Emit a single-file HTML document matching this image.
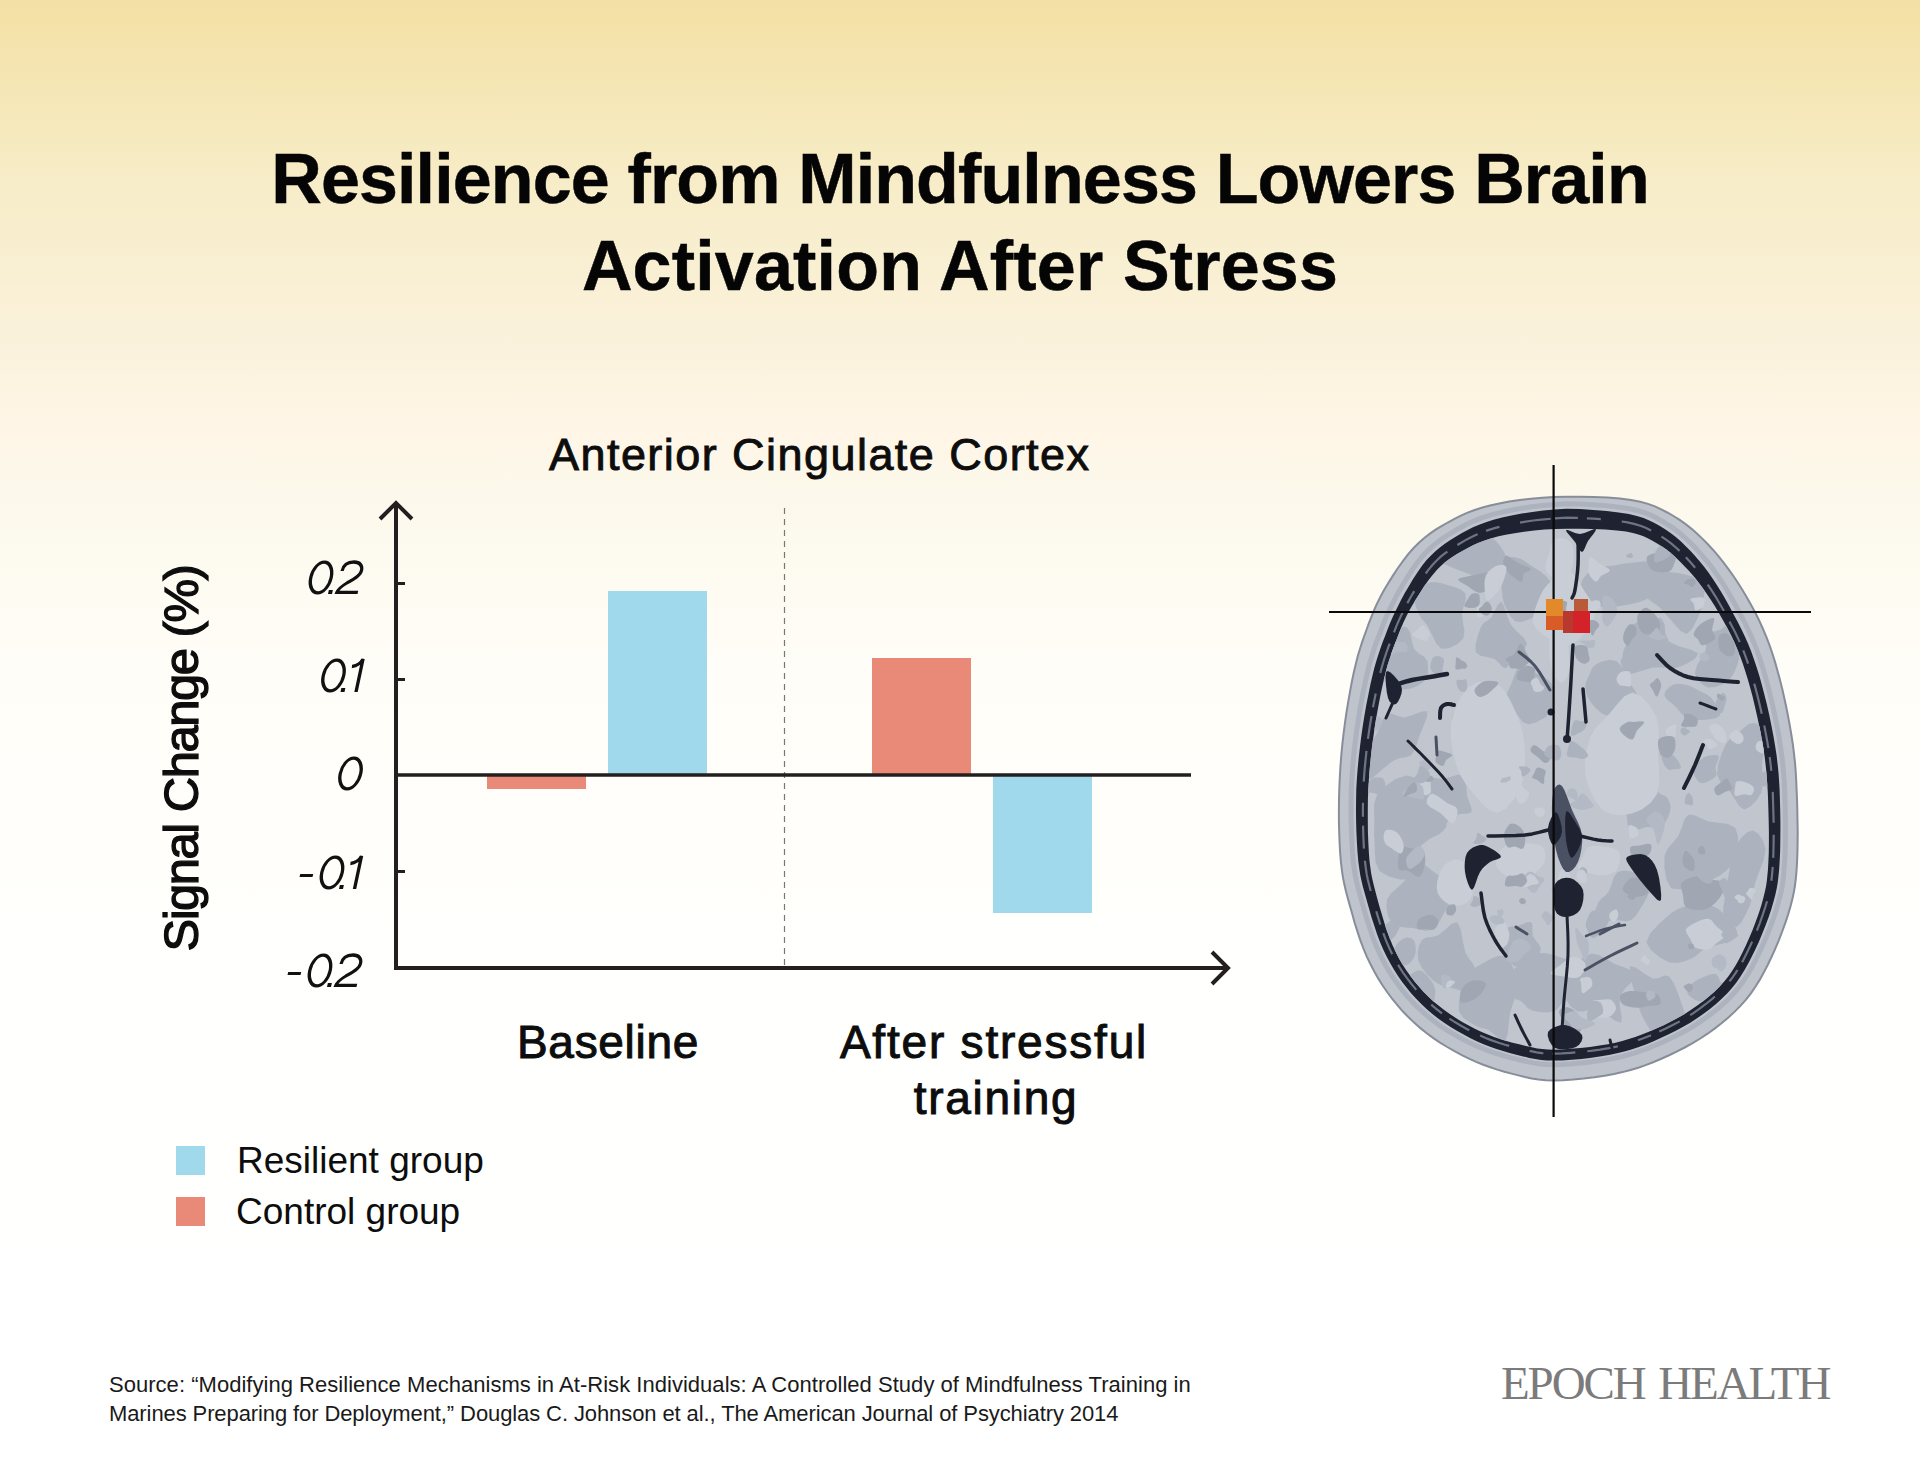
<!DOCTYPE html>
<html><head><meta charset="utf-8">
<style>
html,body{margin:0;padding:0;}
body{width:1920px;height:1457px;position:relative;overflow:hidden;background:#fff;font-family:"Liberation Sans",sans-serif;color:#0d0d0d;}
#bg{position:absolute;left:0;top:0;width:1920px;height:1328px;background:linear-gradient(180deg,#f3e0a4 0px,#f7edc9 190px,#faf1da 330px,#fff5e6 426px,#fcf8ea 480px,#fdfaf0 560px,#fffdf7 660px,#fffffd 950px,#ffffff 1328px);}
.t{position:absolute;white-space:nowrap;line-height:1;}
#title{left:0;width:1920px;text-align:center;font-weight:bold;font-size:70px;letter-spacing:-0.5px;color:#050505;-webkit-text-stroke:0.5px #050505;}
#ctitle{left:549px;top:432px;font-size:45px;letter-spacing:1.45px;-webkit-text-stroke:0.9px #0d0d0d;}
.yl{position:absolute;font-style:italic;font-size:48px;letter-spacing:-3px;text-align:right;width:120px;line-height:1;}
#ylab{font-size:49px;letter-spacing:-1.5px;-webkit-text-stroke:1.3px #0d0d0d;}
.xl{font-size:46px;text-align:center;width:400px;-webkit-text-stroke:1.0px #0d0d0d;}
.leg{font-size:37px;}
.sq{position:absolute;width:29px;height:29px;}
#src{left:109px;font-size:22px;letter-spacing:0.03px;line-height:29px;color:#1a1a1a;}
#logo{font-family:"Liberation Serif",serif;font-size:47px;color:#7b7b7b;letter-spacing:-2.1px;word-spacing:4px;}
</style></head>
<body>
<div id="bg"></div>
<div class="t" id="title" style="top:144px;letter-spacing:-0.86px">Resilience from Mindfulness Lowers Brain</div>
<div class="t" id="title2" style="position:absolute;left:0;width:1920px;text-align:center;font-weight:bold;font-size:70px;letter-spacing:0.18px;top:231px;color:#050505;-webkit-text-stroke:0.5px #050505;white-space:nowrap;line-height:1">Activation After Stress</div>
<div class="t" id="ctitle">Anterior Cingulate Cortex</div>

<svg style="position:absolute;left:0;top:0" width="1920" height="1457">
  <!-- dashed separator -->
  <line x1="784.5" y1="508" x2="784.5" y2="968" stroke="#777" stroke-width="1.2" stroke-dasharray="6,5"/>
  <!-- bars -->
  <rect x="487" y="775" width="99" height="14" fill="#e98a78"/>
  <rect x="608" y="591" width="99" height="184" fill="#a0d9eb"/>
  <rect x="872" y="658" width="99" height="117" fill="#e98a78"/>
  <rect x="993" y="775" width="99" height="138" fill="#a0d9eb"/>
  <!-- axes -->
  <g stroke="#231f20" fill="none">
    <line x1="396" y1="503" x2="396" y2="970" stroke-width="4"/>
    <polyline points="380,519 396,503 412,519" stroke-width="4"/>
    <line x1="394" y1="968" x2="1227" y2="968" stroke-width="4"/>
    <polyline points="1212,952 1228,968 1212,984" stroke-width="4"/>
    <line x1="396" y1="775" x2="1191" y2="775" stroke-width="3.5"/>
    <line x1="396" y1="583.5" x2="405" y2="583.5" stroke-width="3"/>
    <line x1="396" y1="679.5" x2="405" y2="679.5" stroke-width="3"/>
    <line x1="396" y1="871.5" x2="405" y2="871.5" stroke-width="3"/>
  </g>
</svg>


<svg id="ylabels" style="position:absolute;left:0;top:0" width="1920" height="1457">
<g transform="translate(307,594) skewX(-12)"><ellipse cx="10.5" cy="-16.5" rx="10.2" ry="15.3" fill="none" stroke="#111" stroke-width="3.3"/><rect x="21" y="-4" width="4" height="4" fill="#111"/><path transform="translate(28,0)" d="M2.2,-23 C2.2,-29.5 6.5,-32 12,-32 C18,-32 21.5,-28.5 21.5,-23.5 C21.5,-18 15,-14.5 9.5,-11 C4.5,-7.5 2,-4.5 1.5,-1.7 L22.5,-1.7" fill="none" stroke="#111" stroke-width="3.3"/></g>
<g transform="translate(319.5,692) skewX(-12)"><ellipse cx="10.5" cy="-16.5" rx="10.2" ry="15.3" fill="none" stroke="#111" stroke-width="3.3"/><rect x="21" y="-4" width="4" height="4" fill="#111"/><path transform="translate(23,0)" d="M4,-25.5 C8,-26 12,-28 13.5,-33 L13.5,0" fill="none" stroke="#111" stroke-width="3.4"/></g>
<g transform="translate(336.5,790) skewX(-12)"><ellipse cx="10.5" cy="-16.5" rx="10.2" ry="15.3" fill="none" stroke="#111" stroke-width="3.3"/></g>
<g transform="translate(297,889) skewX(-12)"><line x1="0" y1="-13.5" x2="13" y2="-13.5" stroke="#111" stroke-width="3.2"/><ellipse cx="31.5" cy="-16.5" rx="10.2" ry="15.3" fill="none" stroke="#111" stroke-width="3.3"/><rect x="42" y="-4" width="4" height="4" fill="#111"/><path transform="translate(44,0)" d="M4,-25.5 C8,-26 12,-28 13.5,-33 L13.5,0" fill="none" stroke="#111" stroke-width="3.4"/></g>
<g transform="translate(285,987) skewX(-12)"><line x1="0" y1="-13.5" x2="13" y2="-13.5" stroke="#111" stroke-width="3.2"/><ellipse cx="31.5" cy="-16.5" rx="10.2" ry="15.3" fill="none" stroke="#111" stroke-width="3.3"/><rect x="42" y="-4" width="4" height="4" fill="#111"/><path transform="translate(49,0)" d="M2.2,-23 C2.2,-29.5 6.5,-32 12,-32 C18,-32 21.5,-28.5 21.5,-23.5 C21.5,-18 15,-14.5 9.5,-11 C4.5,-7.5 2,-4.5 1.5,-1.7 L22.5,-1.7" fill="none" stroke="#111" stroke-width="3.3"/></g>
</svg>
<div class="t" id="ylab" style="left:0;top:0;transform-origin:0 0;transform:translate(156.5px,951.5px) rotate(-90deg)">Signal Change (%)</div>

<div class="t xl" style="left:408px;top:1019px;letter-spacing:0.7px">Baseline</div>
<div class="t xl" style="left:794px;top:1019px;letter-spacing:1.8px">After stressful</div>
<div class="t xl" style="left:796px;top:1075px;letter-spacing:1.7px">training</div>

<div class="sq" style="left:176px;top:1146px;background:#a0d9eb"></div>
<div class="sq" style="left:176px;top:1197px;background:#e98a78"></div>
<div class="t leg" style="left:237px;top:1142px">Resilient group</div>
<div class="t leg" style="left:236px;top:1193px">Control group</div>

<div class="t" id="src" style="top:1370px">Source: “Modifying Resilience Mechanisms in At-Risk Individuals: A Controlled Study of Mindfulness Training in<br><span style="letter-spacing:-0.1px">Marines Preparing for Deployment,” Douglas C. Johnson et al., The American Journal of Psychiatry 2014</span></div>
<div class="t" id="logo" style="left:1501px;top:1360px">EPOCH HEALTH</div>

<!-- BRAIN -->
<svg id="brain" style="position:absolute;left:0;top:0" width="1920" height="1457">
<path d="M1554.0,497.0 L1566.5,496.7 L1580.0,496.7 L1593.8,497.0 L1607.4,497.6 L1620.0,498.6 L1631.0,500.0 L1640.2,501.8 L1648.0,503.9 L1654.9,506.4 L1661.2,509.3 L1667.3,512.5 L1673.5,516.0 L1679.7,519.9 L1685.6,524.1 L1691.3,528.6 L1696.9,533.5 L1702.3,538.6 L1707.6,544.0 L1712.9,549.7 L1718.0,555.6 L1723.0,561.8 L1727.9,568.3 L1732.7,575.0 L1737.4,582.0 L1742.0,589.3 L1746.6,596.9 L1751.0,604.7 L1755.3,612.7 L1759.3,620.8 L1763.0,629.0 L1766.4,637.1 L1769.5,645.2 L1772.3,653.4 L1775.0,661.9 L1777.5,670.7 L1780.0,680.0 L1782.5,690.0 L1784.9,700.7 L1787.2,711.8 L1789.3,722.9 L1791.2,733.7 L1792.8,744.0 L1794.0,753.6 L1795.0,762.7 L1795.7,771.5 L1796.2,780.3 L1796.6,789.4 L1797.0,799.0 L1797.3,809.4 L1797.5,820.4 L1797.7,831.8 L1797.6,842.9 L1797.4,853.4 L1797.0,863.0 L1796.5,871.3 L1795.8,878.6 L1795.0,885.3 L1793.9,891.9 L1792.5,898.6 L1790.6,906.0 L1788.2,914.1 L1785.4,922.7 L1782.2,931.5 L1778.8,940.3 L1775.2,948.9 L1771.5,957.0 L1767.8,964.7 L1764.0,972.1 L1760.0,979.4 L1755.7,986.3 L1751.1,993.1 L1746.0,999.6 L1740.4,1005.9 L1734.5,1011.9 L1728.1,1017.7 L1721.5,1023.3 L1714.6,1028.6 L1707.6,1033.7 L1700.3,1038.5 L1692.6,1043.2 L1684.7,1047.5 L1676.6,1051.7 L1668.6,1055.5 L1660.7,1059.0 L1653.1,1062.2 L1645.6,1065.1 L1638.2,1067.7 L1630.5,1070.0 L1622.6,1072.1 L1614.0,1074.0 L1604.6,1075.7 L1594.3,1077.3 L1583.7,1078.6 L1573.2,1079.6 L1563.1,1080.3 L1554.0,1080.5 L1545.9,1080.2 L1538.5,1079.5 L1531.7,1078.4 L1525.0,1077.0 L1518.4,1075.4 L1511.5,1073.6 L1504.4,1071.7 L1497.3,1069.6 L1490.3,1067.3 L1483.2,1064.8 L1476.1,1061.9 L1469.0,1058.7 L1461.8,1055.1 L1454.5,1051.2 L1447.2,1047.0 L1440.0,1042.6 L1433.0,1037.9 L1426.4,1033.0 L1420.1,1027.9 L1414.1,1022.6 L1408.3,1017.0 L1402.7,1011.3 L1397.4,1005.2 L1392.3,999.0 L1387.5,992.5 L1382.8,985.8 L1378.5,978.9 L1374.4,971.7 L1370.5,964.3 L1366.8,956.6 L1363.4,948.5 L1360.2,939.9 L1357.3,931.1 L1354.5,922.2 L1352.1,913.6 L1349.8,905.5 L1347.8,898.2 L1346.0,891.5 L1344.5,885.1 L1343.1,878.4 L1342.0,871.2 L1341.0,863.0 L1340.2,853.6 L1339.6,843.3 L1339.2,832.3 L1338.9,821.1 L1338.9,809.9 L1339.0,799.0 L1339.3,788.3 L1339.8,777.6 L1340.4,767.0 L1341.2,756.3 L1342.2,745.6 L1343.4,735.0 L1344.8,724.1 L1346.4,713.0 L1348.2,701.9 L1350.1,691.1 L1352.0,680.9 L1354.0,671.5 L1356.0,663.2 L1357.9,655.6 L1360.0,648.7 L1362.1,642.1 L1364.4,635.6 L1366.8,629.0 L1369.2,622.4 L1371.7,616.1 L1374.2,609.8 L1377.0,603.6 L1380.2,597.2 L1383.8,590.6 L1388.0,583.5 L1392.6,576.1 L1397.6,568.5 L1402.9,561.1 L1408.2,554.2 L1413.6,548.0 L1418.9,542.7 L1424.3,537.9 L1429.9,533.6 L1435.6,529.7 L1441.5,526.1 L1447.7,522.5 L1454.0,519.1 L1460.4,515.9 L1467.0,512.9 L1474.0,510.2 L1481.6,507.7 L1490.0,505.5 L1499.3,503.5 L1509.2,501.6 L1519.8,500.0 L1530.9,498.7 L1542.3,497.7Z" fill="#bec3cc" stroke="#878e9a" stroke-width="2"/>
<path d="M1554.3,504.4 L1566.6,503.7 L1579.9,504.0 L1593.6,504.8 L1606.9,505.8 L1619.1,507.2 L1629.6,508.8 L1638.1,510.7 L1645.2,512.9 L1651.3,515.4 L1656.9,518.2 L1662.5,521.3 L1668.2,524.9 L1673.9,528.6 L1679.2,532.6 L1684.3,537.0 L1689.3,541.7 L1694.3,546.8 L1699.2,552.1 L1704.0,557.6 L1708.7,563.4 L1713.3,569.4 L1717.8,575.8 L1722.1,582.3 L1726.4,589.2 L1730.6,596.3 L1734.7,603.8 L1738.7,611.4 L1742.9,619.1 L1746.8,626.8 L1750.4,634.5 L1753.7,642.2 L1756.7,649.9 L1759.5,657.7 L1762.1,665.8 L1764.7,674.3 L1767.2,683.3 L1769.7,693.0 L1772.2,703.5 L1774.6,714.3 L1776.8,725.1 L1778.8,735.7 L1780.4,745.8 L1781.7,755.0 L1782.8,763.8 L1783.5,772.4 L1784.2,781.0 L1784.6,789.9 L1784.9,799.4 L1785.2,809.7 L1785.4,820.6 L1785.4,831.8 L1785.3,842.8 L1785.1,853.1 L1784.6,862.3 L1784.0,870.3 L1783.4,877.3 L1782.6,883.5 L1781.6,889.5 L1780.2,895.7 L1778.4,902.7 L1776.1,910.4 L1773.4,918.6 L1770.3,927.0 L1767.0,935.5 L1763.4,943.7 L1759.8,951.5 L1756.2,958.9 L1752.5,966.0 L1748.7,972.8 L1744.7,979.2 L1740.4,985.3 L1735.7,991.1 L1730.6,996.7 L1725.1,1002.2 L1719.1,1007.5 L1712.8,1012.6 L1706.3,1017.5 L1699.6,1022.2 L1692.7,1026.6 L1685.5,1030.8 L1677.9,1034.8 L1670.2,1038.6 L1662.5,1042.2 L1654.9,1045.5 L1647.5,1048.4 L1640.4,1051.0 L1633.5,1053.4 L1626.4,1055.4 L1619.0,1057.3 L1611.0,1058.9 L1602.0,1060.4 L1592.2,1061.8 L1582.0,1062.9 L1571.9,1063.8 L1562.4,1064.4 L1554.1,1064.7 L1546.9,1064.5 L1540.5,1064.0 L1534.5,1063.1 L1528.4,1061.9 L1522.1,1060.5 L1515.4,1058.8 L1508.5,1057.1 L1501.8,1055.2 L1495.1,1053.2 L1488.5,1050.9 L1481.9,1048.3 L1475.3,1045.4 L1468.5,1042.2 L1461.5,1038.6 L1454.5,1034.7 L1447.7,1030.6 L1441.1,1026.4 L1435.0,1021.9 L1429.1,1017.3 L1423.4,1012.4 L1417.9,1007.4 L1412.7,1002.1 L1407.6,996.5 L1402.8,990.8 L1398.2,984.8 L1393.8,978.6 L1389.6,972.2 L1385.7,965.4 L1382.0,958.5 L1378.6,951.3 L1375.3,943.8 L1372.3,935.6 L1369.4,927.2 L1366.7,918.6 L1364.2,910.2 L1362.0,902.1 L1359.9,894.9 L1358.2,888.4 L1356.7,882.4 L1355.4,876.2 L1354.3,869.5 L1353.3,861.8 L1352.5,852.7 L1351.9,842.7 L1351.4,832.0 L1351.1,821.0 L1351.0,809.9 L1351.1,799.2 L1351.3,788.8 L1351.9,778.3 L1352.6,767.8 L1353.5,757.3 L1354.6,746.9 L1355.9,736.5 L1357.4,725.9 L1359.1,715.0 L1360.9,704.1 L1362.9,693.4 L1365.0,683.5 L1367.0,674.4 L1368.9,666.4 L1370.9,659.2 L1372.9,652.7 L1375.0,646.4 L1377.2,640.2 L1379.7,633.7 L1382.1,627.3 L1384.5,621.1 L1387.0,615.3 L1389.7,609.5 L1392.5,603.6 L1395.7,597.4 L1399.5,590.5 L1403.7,583.2 L1408.3,575.8 L1413.0,568.6 L1417.8,562.0 L1422.5,556.2 L1427.1,551.3 L1431.8,546.9 L1436.6,542.9 L1441.7,539.1 L1447.1,535.5 L1453.0,531.9 L1458.9,528.5 L1464.8,525.2 L1470.9,522.3 L1477.3,519.6 L1484.3,517.0 L1492.2,514.6 L1501.1,512.4 L1510.7,510.3 L1521.0,508.4 L1531.7,506.8 L1542.9,505.4Z" fill="none" stroke="#adb3be" stroke-width="5"/>
<path d="M1554.5,509.5 L1566.6,508.7 L1579.9,509.1 L1593.4,509.9 L1606.6,511.0 L1618.6,512.4 L1628.8,514.0 L1636.9,515.9 L1643.6,518.0 L1649.3,520.4 L1654.5,523.0 L1659.9,526.1 L1665.5,529.6 L1670.9,533.2 L1675.8,537.1 L1680.7,541.3 L1685.5,545.9 L1690.3,550.8 L1695.1,556.0 L1699.8,561.4 L1704.3,567.0 L1708.8,573.0 L1713.1,579.2 L1717.3,585.7 L1721.5,592.4 L1725.6,599.4 L1729.6,606.8 L1733.5,614.3 L1737.6,621.8 L1741.4,629.3 L1745.0,636.8 L1748.3,644.3 L1751.3,651.8 L1754.0,659.5 L1756.7,667.4 L1759.3,675.8 L1761.8,684.7 L1764.3,694.3 L1766.9,704.6 L1769.3,715.3 L1771.5,726.1 L1773.5,736.6 L1775.2,746.5 L1776.6,755.6 L1777.6,764.3 L1778.5,772.7 L1779.1,781.2 L1779.6,790.1 L1779.9,799.6 L1780.2,809.8 L1780.4,820.7 L1780.4,831.8 L1780.3,842.7 L1780.1,852.9 L1779.6,862.1 L1779.1,870.0 L1778.4,876.8 L1777.7,882.8 L1776.7,888.6 L1775.4,894.6 L1773.6,901.3 L1771.4,908.9 L1768.7,917.0 L1765.6,925.3 L1762.3,933.6 L1758.9,941.7 L1755.3,949.4 L1751.7,956.7 L1748.1,963.7 L1744.4,970.3 L1740.5,976.5 L1736.4,982.4 L1732.0,988.0 L1727.1,993.4 L1721.7,998.7 L1716.0,1003.9 L1709.9,1008.9 L1703.5,1013.7 L1697.0,1018.3 L1690.3,1022.7 L1683.2,1026.8 L1675.8,1030.8 L1668.2,1034.6 L1660.6,1038.1 L1653.1,1041.4 L1645.9,1044.4 L1638.9,1047.0 L1632.1,1049.3 L1625.2,1051.3 L1618.0,1053.1 L1610.1,1054.8 L1601.3,1056.3 L1591.6,1057.7 L1581.5,1058.9 L1571.6,1059.8 L1562.2,1060.4 L1554.1,1060.6 L1547.2,1060.5 L1541.1,1059.9 L1535.2,1059.0 L1529.4,1057.9 L1523.1,1056.4 L1516.4,1054.7 L1509.7,1053.0 L1503.1,1051.1 L1496.5,1049.1 L1490.1,1046.8 L1483.6,1044.3 L1477.2,1041.4 L1470.5,1038.2 L1463.7,1034.6 L1456.9,1030.8 L1450.2,1026.8 L1443.8,1022.6 L1437.8,1018.2 L1432.1,1013.7 L1426.6,1008.9 L1421.3,1004.0 L1416.2,998.8 L1411.3,993.4 L1406.7,987.8 L1402.2,981.9 L1398.0,975.9 L1393.9,969.6 L1390.1,963.0 L1386.5,956.2 L1383.1,949.3 L1380.0,941.9 L1377.0,934.0 L1374.2,925.6 L1371.5,917.2 L1369.1,908.8 L1366.8,900.8 L1364.8,893.6 L1363.0,887.2 L1361.6,881.3 L1360.3,875.3 L1359.3,868.8 L1358.3,861.3 L1357.5,852.3 L1356.9,842.4 L1356.4,831.8 L1356.1,820.9 L1356.0,810.0 L1356.1,799.3 L1356.3,788.9 L1356.9,778.5 L1357.7,768.2 L1358.7,757.8 L1359.9,747.4 L1361.2,737.1 L1362.7,726.6 L1364.4,715.8 L1366.3,705.0 L1368.4,694.4 L1370.4,684.5 L1372.5,675.6 L1374.4,667.7 L1376.4,660.8 L1378.4,654.4 L1380.5,648.3 L1382.7,642.1 L1385.2,635.7 L1387.6,629.3 L1390.0,623.3 L1392.5,617.6 L1395.1,612.1 L1397.8,606.4 L1400.9,600.3 L1404.5,593.6 L1408.7,586.4 L1413.1,579.1 L1417.7,572.0 L1422.2,565.6 L1426.6,560.1 L1431.0,555.5 L1435.4,551.3 L1439.9,547.4 L1444.8,543.8 L1450.0,540.3 L1455.7,536.8 L1461.5,533.3 L1467.2,530.2 L1473.0,527.3 L1479.1,524.7 L1485.9,522.2 L1493.5,519.8 L1502.1,517.6 L1511.6,515.5 L1521.7,513.6 L1532.3,511.9 L1543.3,510.5Z" fill="#1e2231"/>
<path d="M1554.9,518.4 L1566.8,517.7 L1579.8,518.0 L1593.1,518.6 L1606.0,519.6 L1617.8,520.9 L1627.5,522.4 L1635.0,524.1 L1641.1,526.0 L1646.2,528.0 L1650.9,530.4 L1656.0,533.2 L1661.3,536.5 L1666.4,539.9 L1671.1,543.4 L1675.7,547.3 L1680.3,551.6 L1684.9,556.3 L1689.6,561.3 L1694.1,566.5 L1698.5,571.9 L1702.9,577.6 L1707.1,583.6 L1711.3,589.8 L1715.4,596.3 L1719.5,603.2 L1723.5,610.3 L1727.3,617.7 L1731.3,625.0 L1735.1,632.3 L1738.6,639.6 L1741.8,646.9 L1744.7,654.2 L1747.4,661.7 L1750.0,669.4 L1752.5,677.7 L1755.0,686.4 L1757.5,695.9 L1760.0,706.1 L1762.4,716.7 L1764.6,727.4 L1766.6,737.7 L1768.3,747.5 L1769.6,756.5 L1770.7,764.9 L1771.5,773.2 L1772.1,781.6 L1772.7,790.4 L1773.0,799.8 L1773.3,810.0 L1773.6,820.8 L1773.7,831.8 L1773.6,842.6 L1773.4,852.7 L1773.0,861.7 L1772.5,869.5 L1771.9,876.1 L1771.2,881.9 L1770.3,887.4 L1769.1,893.1 L1767.5,899.7 L1765.3,907.0 L1762.7,914.9 L1759.8,923.1 L1756.6,931.3 L1753.2,939.3 L1749.8,946.8 L1746.3,954.0 L1742.8,960.9 L1739.2,967.3 L1735.5,973.2 L1731.5,978.8 L1727.3,984.1 L1722.6,989.2 L1717.4,994.2 L1711.9,999.2 L1705.9,1004.0 L1699.7,1008.7 L1693.4,1013.1 L1686.9,1017.3 L1680.0,1021.3 L1672.7,1025.1 L1665.3,1028.8 L1657.9,1032.2 L1650.5,1035.4 L1643.4,1038.2 L1636.6,1040.7 L1630.1,1042.9 L1623.4,1044.8 L1616.4,1046.6 L1608.8,1048.1 L1600.2,1049.6 L1590.7,1050.9 L1580.8,1052.0 L1571.0,1052.8 L1561.9,1053.4 L1554.1,1053.7 L1547.6,1053.6 L1541.9,1053.1 L1536.5,1052.3 L1530.9,1051.2 L1524.8,1049.8 L1518.2,1048.2 L1511.5,1046.5 L1505.0,1044.7 L1498.7,1042.8 L1492.4,1040.6 L1486.2,1038.2 L1480.0,1035.5 L1473.5,1032.4 L1466.8,1029.0 L1460.2,1025.3 L1453.7,1021.4 L1447.5,1017.4 L1441.7,1013.2 L1436.2,1008.9 L1430.8,1004.3 L1425.7,999.6 L1420.8,994.6 L1416.0,989.4 L1411.5,984.0 L1407.2,978.4 L1403.0,972.6 L1399.1,966.5 L1395.4,960.1 L1391.9,953.5 L1388.7,946.8 L1385.7,939.7 L1382.8,931.9 L1380.1,923.7 L1377.5,915.4 L1375.1,907.1 L1372.9,899.1 L1370.9,891.9 L1369.3,885.6 L1367.9,879.9 L1366.7,874.2 L1365.8,868.0 L1364.9,860.6 L1364.1,851.9 L1363.6,842.1 L1363.2,831.6 L1362.9,820.8 L1362.9,810.0 L1363.0,799.5 L1363.3,789.2 L1363.9,778.9 L1364.7,768.6 L1365.7,758.4 L1366.8,748.1 L1368.1,737.9 L1369.6,727.5 L1371.4,716.8 L1373.2,706.1 L1375.3,695.7 L1377.3,685.9 L1379.3,677.1 L1381.2,669.4 L1383.1,662.7 L1385.1,656.4 L1387.1,650.5 L1389.3,644.5 L1391.7,638.2 L1394.2,631.8 L1396.5,625.9 L1398.9,620.4 L1401.4,615.0 L1404.1,609.7 L1407.0,603.9 L1410.6,597.3 L1414.7,590.3 L1419.1,583.2 L1423.6,576.4 L1428.0,570.4 L1432.2,565.3 L1436.2,561.0 L1440.2,557.2 L1444.5,553.7 L1449.0,550.4 L1454.0,547.0 L1459.5,543.7 L1465.1,540.4 L1470.6,537.5 L1476.1,534.8 L1481.9,532.4 L1488.2,530.1 L1495.4,527.9 L1503.8,525.8 L1513.0,523.8 L1522.8,522.1 L1533.2,520.5 L1543.9,519.3Z" fill="none" stroke="#6d7482" stroke-width="2.2" stroke-dasharray="23,9,14,21,31,12"/>
<path d="M1555.3,529.0 L1566.9,528.7 L1579.6,528.7 L1592.7,528.9 L1605.4,529.5 L1616.8,530.5 L1626.0,531.6 L1633.0,533.0 L1638.4,534.4 L1642.9,536.1 L1647.2,538.0 L1652.0,540.6 L1657.2,543.5 L1662.0,546.5 L1666.4,549.6 L1670.8,553.1 L1675.3,557.1 L1679.9,561.5 L1684.5,566.2 L1689.1,571.0 L1693.5,576.1 L1697.8,581.5 L1702.1,587.2 L1706.4,593.2 L1710.6,599.5 L1714.8,606.1 L1718.9,613.0 L1722.9,620.1 L1726.9,627.2 L1730.6,634.5 L1734.0,641.6 L1737.1,648.8 L1740.0,655.9 L1742.7,663.2 L1745.2,670.9 L1747.7,679.0 L1750.2,687.7 L1752.7,697.1 L1755.1,707.2 L1757.5,717.7 L1759.7,728.3 L1761.7,738.6 L1763.4,748.2 L1764.7,757.0 L1765.7,765.4 L1766.5,773.5 L1767.1,781.9 L1767.7,790.6 L1768.1,800.0 L1768.4,810.1 L1768.7,820.9 L1768.9,831.9 L1768.9,842.6 L1768.8,852.5 L1768.4,861.5 L1768.0,869.1 L1767.4,875.6 L1766.8,881.3 L1766.0,886.6 L1764.8,892.1 L1763.2,898.5 L1761.2,905.7 L1758.7,913.5 L1755.8,921.6 L1752.7,929.7 L1749.4,937.6 L1746.1,945.0 L1742.6,952.2 L1739.2,959.0 L1735.7,965.3 L1732.1,971.1 L1728.3,976.4 L1724.2,981.5 L1719.7,986.4 L1714.7,991.4 L1709.2,996.2 L1703.4,1000.9 L1697.3,1005.5 L1691.1,1009.8 L1684.7,1013.9 L1678.0,1017.8 L1670.9,1021.6 L1663.6,1025.2 L1656.2,1028.6 L1648.9,1031.7 L1641.9,1034.5 L1635.3,1037.0 L1628.8,1039.1 L1622.3,1041.0 L1615.5,1042.7 L1608.0,1044.2 L1599.5,1045.6 L1590.1,1046.9 L1580.3,1048.0 L1570.7,1048.8 L1561.8,1049.4 L1554.1,1049.7 L1547.9,1049.6 L1542.4,1049.1 L1537.2,1048.4 L1531.8,1047.3 L1525.8,1045.9 L1519.2,1044.3 L1512.6,1042.7 L1506.2,1040.9 L1500.0,1039.0 L1493.9,1036.9 L1487.8,1034.5 L1481.7,1031.9 L1475.3,1028.9 L1468.7,1025.5 L1462.2,1021.9 L1455.8,1018.0 L1449.8,1014.1 L1444.2,1010.1 L1438.8,1005.8 L1433.5,1001.4 L1428.5,996.7 L1423.7,991.9 L1419.1,986.8 L1414.6,981.6 L1410.4,976.1 L1406.4,970.4 L1402.5,964.4 L1398.9,958.2 L1395.6,951.7 L1392.4,945.1 L1389.6,938.1 L1386.8,930.5 L1384.2,922.4 L1381.7,914.1 L1379.3,905.9 L1377.1,897.9 L1375.2,890.7 L1373.6,884.5 L1372.3,878.9 L1371.2,873.4 L1370.3,867.3 L1369.4,860.1 L1368.8,851.5 L1368.3,841.9 L1367.9,831.5 L1367.8,820.8 L1367.8,810.0 L1367.9,799.5 L1368.3,789.4 L1368.9,779.2 L1369.7,769.0 L1370.7,758.8 L1371.8,748.6 L1373.1,738.5 L1374.6,728.2 L1376.3,717.6 L1378.2,706.9 L1380.2,696.6 L1382.2,686.9 L1384.2,678.2 L1386.1,670.6 L1387.9,664.0 L1389.9,657.9 L1391.9,652.1 L1394.0,646.2 L1396.4,639.9 L1398.9,633.6 L1401.2,627.7 L1403.5,622.3 L1405.9,617.2 L1408.5,612.0 L1411.6,606.5 L1415.3,600.2 L1419.6,593.4 L1424.0,586.6 L1428.6,580.1 L1433.0,574.4 L1437.0,569.8 L1440.8,566.0 L1444.7,562.6 L1448.7,559.5 L1453.1,556.5 L1457.9,553.5 L1463.3,550.5 L1468.8,547.5 L1474.1,544.8 L1479.3,542.5 L1484.7,540.4 L1490.7,538.4 L1497.5,536.6 L1505.6,534.8 L1514.5,533.2 L1524.1,531.7 L1534.2,530.5 L1544.6,529.6Z" fill="#c0c5ce"/>
<path d="M1508.6,570.0 L1508.7,564.4 L1507.0,558.3 L1502.9,550.3 L1497.0,541.7 L1492.1,538.0 L1490.7,538.4 L1484.7,540.4 L1479.3,542.5 L1474.1,544.8 L1468.8,547.5 L1463.3,550.5 L1457.9,553.5 L1453.1,556.5 L1448.7,559.5 L1444.7,562.6 L1443.5,563.7 L1451.5,567.3 L1458.1,570.1 L1463.0,571.8 L1468.9,574.1 L1477.5,578.8 L1487.0,584.0 L1494.9,586.6 L1500.5,584.7 L1504.4,580.2 L1507.0,575.0Z" fill="#adb3be"/>
<path d="M1538.3,613.7 L1542.4,609.3 L1545.6,603.9 L1548.6,597.0 L1550.8,589.2 L1550.5,582.0 L1546.3,576.2 L1539.6,571.1 L1532.8,566.7 L1526.7,562.4 L1520.6,558.8 L1514.4,557.0 L1507.0,557.4 L1499.6,559.6 L1495.1,563.7 L1495.5,570.6 L1498.7,579.4 L1501.5,587.4 L1502.2,593.0 L1502.5,597.8 L1503.9,602.9 L1506.8,609.6 L1510.7,616.8 L1515.4,621.4 L1521.2,621.9 L1527.7,620.0 L1533.5,617.1Z" fill="#adb3be"/>
<path d="M1421.5,618.4 L1424.5,621.8 L1427.9,626.3 L1431.7,634.2 L1436.1,643.3 L1441.4,648.7 L1449.0,648.2 L1457.5,643.9 L1463.4,638.2 L1464.5,630.9 L1462.9,622.2 L1461.9,613.8 L1463.5,606.4 L1465.7,599.3 L1465.5,593.6 L1461.1,589.7 L1454.4,587.1 L1447.6,585.1 L1441.5,583.2 L1435.4,581.9 L1429.5,582.4 L1425.8,584.0 L1424.0,586.6 L1419.6,593.4 L1415.3,600.2 L1414.4,601.8 L1416.3,608.0 L1419.0,614.2Z" fill="#adb3be"/>
<path d="M1507.6,666.8 L1510.2,663.1 L1513.3,658.8 L1518.6,654.2 L1524.5,649.1 L1527.0,643.5 L1523.6,637.6 L1516.8,631.4 L1510.8,624.6 L1507.1,615.9 L1504.3,606.7 L1501.4,601.8 L1498.0,604.4 L1494.6,611.4 L1491.2,617.5 L1487.6,620.4 L1484.1,622.5 L1481.1,626.5 L1478.1,634.5 L1475.6,644.5 L1475.8,652.3 L1480.6,655.8 L1488.0,657.3 L1494.6,659.1 L1498.7,662.7 L1501.9,666.6 L1504.9,668.3Z" fill="#adb3be"/>
<path d="M1661.4,575.7 L1668.5,567.6 L1669.8,561.9 L1660.3,560.5 L1644.9,561.4 L1631.8,562.7 L1624.5,563.4 L1619.5,564.5 L1614.1,565.6 L1607.0,566.3 L1599.6,567.1 L1593.1,569.3 L1587.3,573.7 L1582.5,579.4 L1580.7,585.5 L1583.0,592.8 L1588.4,600.6 L1595.8,605.9 L1606.1,607.3 L1618.4,606.3 L1629.4,604.6 L1637.9,602.6 L1645.0,600.0 L1650.3,596.7 L1652.8,592.8 L1653.5,588.3 L1655.3,583.0Z" fill="#adb3be"/>
<path d="M1691.6,629.7 L1696.1,621.2 L1699.5,613.5 L1701.6,608.3 L1702.8,603.8 L1703.4,599.0 L1704.2,593.3 L1704.4,590.4 L1702.1,587.2 L1697.8,581.5 L1694.4,577.3 L1692.4,576.5 L1685.4,574.6 L1677.9,572.9 L1669.8,571.9 L1661.7,572.8 L1652.2,576.7 L1642.8,582.4 L1638.4,588.6 L1642.5,594.9 L1651.6,601.6 L1659.4,607.3 L1663.0,611.0 L1665.3,613.8 L1668.6,617.3 L1674.1,623.7 L1680.6,630.9 L1686.6,634.0Z" fill="#adb3be"/>
<path d="M1691.3,649.8 L1678.8,646.2 L1668.8,641.4 L1665.4,633.4 L1664.5,624.2 L1661.1,618.3 L1651.8,618.0 L1640.1,621.0 L1631.3,625.2 L1628.1,630.5 L1627.7,636.9 L1627.3,642.8 L1625.5,646.8 L1623.6,650.2 L1622.6,654.5 L1622.1,661.4 L1622.4,669.2 L1625.5,674.1 L1633.1,673.6 L1643.5,670.2 L1653.3,667.6 L1661.7,667.6 L1669.5,668.5 L1677.1,667.7 L1686.2,664.0 L1695.0,658.7 L1698.2,653.6Z" fill="#adb3be"/>
<path d="M1595.1,707.5 L1600.3,712.2 L1605.5,715.2 L1610.1,715.4 L1614.7,713.8 L1620.2,712.2 L1628.4,711.8 L1637.6,711.3 L1642.8,708.4 L1641.3,701.6 L1635.9,692.3 L1630.4,683.4 L1626.1,674.8 L1621.6,666.5 L1616.4,661.0 L1609.6,659.8 L1602.0,661.5 L1596.0,664.2 L1592.5,667.5 L1590.6,671.7 L1588.9,675.9 L1587.1,679.6 L1585.7,683.2 L1585.3,687.2 L1586.1,692.1 L1588.0,697.4 L1590.9,702.5Z" fill="#adb3be"/>
<path d="M1554.3,703.8 L1554.5,695.3 L1553.6,688.2 L1551.6,683.6 L1548.5,680.4 L1545.3,677.9 L1542.7,676.2 L1540.0,675.1 L1536.5,673.4 L1531.6,669.5 L1525.9,665.1 L1520.9,663.9 L1517.1,668.5 L1514.0,676.4 L1511.3,683.9 L1508.5,689.9 L1506.1,695.4 L1505.3,700.3 L1507.0,704.1 L1510.4,707.2 L1514.4,710.8 L1518.2,716.1 L1522.6,721.9 L1528.1,724.6 L1536.0,722.5 L1545.1,717.4 L1551.7,711.3Z" fill="#adb3be"/>
<path d="M1426.7,675.2 L1428.1,667.7 L1427.5,661.0 L1424.1,656.7 L1418.8,653.4 L1414.2,649.0 L1411.9,641.4 L1410.3,632.8 L1407.0,627.2 L1401.6,626.8 L1401.2,627.7 L1398.9,633.6 L1396.4,639.9 L1394.0,646.2 L1391.9,652.1 L1389.9,657.9 L1387.9,664.0 L1386.1,670.6 L1384.2,678.2 L1383.7,680.1 L1386.2,681.9 L1391.8,685.5 L1397.8,688.4 L1404.1,689.6 L1411.1,688.5 L1418.2,685.6 L1423.7,681.4Z" fill="#adb3be"/>
<path d="M1738.9,653.4 L1738.7,652.8 L1737.1,648.8 L1734.0,641.6 L1730.6,634.5 L1726.9,627.2 L1725.9,625.4 L1720.6,629.4 L1715.1,631.3 L1710.5,632.0 L1707.1,634.1 L1706.0,638.4 L1706.3,644.1 L1705.5,650.4 L1701.7,657.8 L1696.9,665.8 L1694.8,673.0 L1697.3,679.2 L1702.4,684.5 L1708.3,687.4 L1715.1,687.1 L1722.6,684.5 L1728.9,680.2 L1733.5,673.9 L1737.0,666.1 L1739.1,658.8Z" fill="#adb3be"/>
<path d="M1415.0,749.4 L1417.4,742.5 L1419.7,735.1 L1423.4,726.3 L1427.0,717.1 L1427.2,711.3 L1421.6,711.5 L1412.6,714.9 L1404.2,717.4 L1397.7,716.1 L1391.9,713.7 L1386.7,714.2 L1382.7,719.5 L1379.5,727.7 L1375.6,736.0 L1373.0,739.4 L1371.8,748.6 L1370.7,758.8 L1369.7,769.0 L1368.9,779.2 L1368.9,779.6 L1373.1,777.4 L1383.6,768.2 L1393.1,760.7 L1400.3,758.1 L1406.4,757.2 L1411.5,754.8Z" fill="#adb3be"/>
<path d="M1763.7,752.4 L1763.9,751.6 L1763.4,748.2 L1761.7,738.6 L1759.7,728.3 L1759.4,726.5 L1757.9,725.1 L1753.0,722.9 L1748.6,724.1 L1744.0,727.7 L1739.4,731.7 L1734.8,734.9 L1730.1,738.6 L1726.0,744.1 L1721.8,753.2 L1718.2,764.3 L1717.0,774.0 L1719.8,780.9 L1725.1,786.5 L1730.4,792.0 L1734.8,799.2 L1739.3,806.2 L1744.1,809.4 L1750.2,806.7 L1756.7,800.3 L1761.4,792.3 L1762.8,783.0 L1762.3,772.3 L1762.2,762.0Z" fill="#adb3be"/>
<path d="M1374.8,850.9 L1375.5,862.1 L1379.3,870.9 L1388.8,876.6 L1401.3,879.8 L1411.3,878.5 L1415.6,870.0 L1417.4,857.0 L1420.9,845.7 L1429.4,839.1 L1439.7,834.1 L1446.3,827.5 L1447.2,816.8 L1444.3,804.4 L1438.7,793.7 L1429.7,785.1 L1418.0,778.3 L1406.6,775.6 L1395.5,778.9 L1384.8,786.4 L1377.1,794.9 L1374.1,803.7 L1374.1,813.5 L1374.4,822.2 L1374.1,828.7 L1374.0,834.1 L1374.5,840.9Z" fill="#adb3be"/>
<path d="M1471.6,807.9 L1469.3,802.2 L1467.1,796.0 L1466.5,788.5 L1466.1,780.5 L1463.5,775.1 L1457.5,774.8 L1449.4,777.2 L1441.3,778.9 L1433.2,777.7 L1425.1,775.9 L1418.4,776.4 L1413.5,780.9 L1410.0,787.8 L1408.7,795.0 L1410.1,802.0 L1413.7,809.2 L1418.3,815.7 L1424.3,822.2 L1431.4,828.0 L1438.1,830.5 L1443.6,827.2 L1448.8,820.7 L1454.0,815.5 L1460.6,814.0 L1467.2,813.8 L1471.5,812.2Z" fill="#adb3be"/>
<path d="M1449.9,902.8 L1454.5,894.0 L1455.7,886.5 L1451.5,881.4 L1443.9,877.5 L1436.5,873.9 L1430.2,869.0 L1424.1,864.3 L1418.3,862.9 L1413.1,867.2 L1408.3,874.9 L1403.4,882.3 L1397.2,888.0 L1390.8,893.4 L1386.9,899.6 L1386.4,907.8 L1388.3,916.8 L1391.9,923.6 L1397.6,926.5 L1405.1,927.4 L1412.5,927.9 L1419.3,929.5 L1426.0,930.8 L1432.0,929.8 L1436.9,925.3 L1441.1,918.5 L1445.1,911.0Z" fill="#adb3be"/>
<path d="M1479.3,986.9 L1477.8,977.4 L1475.4,968.7 L1472.6,963.2 L1468.9,958.6 L1465.4,952.4 L1463.0,941.8 L1460.8,929.6 L1457.3,922.2 L1451.7,923.7 L1444.8,929.9 L1438.2,935.3 L1432.1,936.9 L1426.3,937.6 L1421.9,940.1 L1419.0,945.7 L1417.6,953.2 L1418.3,960.6 L1422.1,968.0 L1428.0,975.4 L1434.4,981.4 L1440.8,984.9 L1447.5,987.0 L1454.6,988.8 L1463.1,991.5 L1472.0,994.0 L1477.9,993.2Z" fill="#adb3be"/>
<path d="M1493.8,1034.3 L1499.3,1038.7 L1500.0,1039.0 L1504.1,1040.2 L1505.3,1040.5 L1507.7,1034.0 L1508.8,1023.3 L1510.2,1012.4 L1513.3,1002.6 L1516.7,992.6 L1517.8,983.0 L1515.4,972.7 L1510.7,962.7 L1505.1,956.3 L1498.5,955.7 L1490.9,958.7 L1483.7,962.7 L1477.0,966.6 L1470.5,971.6 L1465.4,978.5 L1461.5,988.8 L1458.8,1001.0 L1458.9,1011.3 L1463.3,1018.0 L1470.4,1022.7 L1476.7,1026.2 L1480.8,1028.0 L1484.1,1028.5 L1488.1,1029.8Z" fill="#adb3be"/>
<path d="M1560.7,1005.1 L1564.4,997.3 L1568.0,989.4 L1572.8,981.7 L1577.4,973.9 L1578.8,967.4 L1574.9,962.9 L1567.8,959.7 L1560.2,957.2 L1553.0,954.8 L1545.3,953.1 L1537.5,953.6 L1529.5,957.1 L1521.4,962.7 L1514.1,969.1 L1506.7,976.7 L1500.1,985.0 L1497.9,991.8 L1502.9,995.7 L1512.3,998.2 L1520.4,1000.7 L1524.5,1004.3 L1527.4,1007.9 L1531.7,1010.5 L1539.2,1012.0 L1548.1,1012.5 L1555.7,1010.6Z" fill="#adb3be"/>
<path d="M1606.1,1014.2 L1615.0,1020.7 L1621.1,1022.8 L1621.8,1016.7 L1619.8,1006.1 L1619.7,996.1 L1625.3,988.3 L1632.8,981.0 L1636.1,974.9 L1631.5,970.3 L1622.6,966.7 L1613.7,963.4 L1606.3,959.1 L1598.9,955.0 L1591.8,953.6 L1584.7,956.6 L1577.9,962.3 L1572.2,968.9 L1567.3,976.1 L1563.6,984.1 L1562.5,991.8 L1565.3,999.3 L1570.8,1006.5 L1577.0,1011.3 L1583.3,1011.6 L1590.2,1009.6 L1597.5,1009.3Z" fill="#adb3be"/>
<path d="M1684.1,1011.1 L1681.0,1001.9 L1677.6,992.3 L1673.5,982.7 L1669.0,976.2 L1664.3,975.5 L1659.0,977.9 L1653.0,978.7 L1644.8,974.0 L1635.9,967.6 L1630.1,966.0 L1629.7,973.1 L1632.5,984.9 L1635.6,996.0 L1637.9,1004.6 L1640.6,1012.5 L1644.2,1020.2 L1649.4,1028.9 L1650.8,1030.9 L1656.2,1028.6 L1663.6,1025.2 L1670.9,1021.6 L1678.0,1017.8 L1684.7,1013.9 L1684.9,1013.8Z" fill="#adb3be"/>
<path d="M1696.5,955.4 L1700.1,952.0 L1705.7,948.4 L1717.0,945.0 L1730.5,941.4 L1738.1,936.1 L1735.3,927.2 L1726.7,916.5 L1717.9,908.6 L1710.4,905.3 L1702.9,904.8 L1696.0,904.9 L1690.5,905.1 L1685.8,906.0 L1681.1,907.7 L1676.4,909.7 L1671.9,912.4 L1666.7,916.9 L1658.7,924.3 L1650.1,933.5 L1646.3,942.2 L1650.9,950.2 L1660.3,957.7 L1669.6,962.5 L1677.5,963.1 L1685.2,961.0 L1692.1,958.2Z" fill="#adb3be"/>
<path d="M1664.4,867.5 L1666.7,880.2 L1671.4,888.6 L1679.8,889.3 L1690.8,885.7 L1700.5,882.1 L1707.6,880.4 L1713.5,878.8 L1719.2,875.9 L1725.5,871.3 L1731.7,865.5 L1735.9,858.2 L1737.9,848.1 L1738.0,836.6 L1735.3,827.7 L1728.1,823.9 L1718.1,822.8 L1708.8,821.6 L1701.1,818.3 L1694.0,814.9 L1688.2,814.7 L1684.4,819.6 L1681.7,827.5 L1678.6,835.5 L1673.5,841.9 L1667.8,848.3 L1664.5,856.0Z" fill="#adb3be"/>
<path d="M1635.3,830.9 L1640.8,828.7 L1646.3,826.9 L1651.5,827.3 L1656.7,828.1 L1661.3,827.1 L1665.2,822.6 L1668.5,816.2 L1670.4,810.3 L1670.5,805.6 L1669.2,801.4 L1667.4,798.0 L1665.2,796.1 L1662.4,795.1 L1659.1,793.0 L1655.2,787.7 L1650.8,781.3 L1645.9,778.7 L1639.8,783.0 L1633.2,791.1 L1628.4,799.0 L1626.5,805.7 L1626.5,812.1 L1627.0,818.0 L1627.5,823.5 L1628.7,828.3 L1631.1,831.3Z" fill="#adb3be"/>
<path d="M1759.2,871.7 L1763.7,859.8 L1765.6,849.5 L1763.2,840.7 L1758.1,833.5 L1752.6,830.2 L1746.9,832.4 L1740.8,838.5 L1735.8,845.6 L1732.8,853.2 L1731.0,861.7 L1729.6,869.5 L1728.5,875.3 L1727.9,880.2 L1727.1,886.5 L1725.3,896.0 L1723.3,906.7 L1723.2,915.5 L1726.4,921.8 L1731.5,926.3 L1736.6,927.0 L1741.4,922.3 L1746.1,913.8 L1750.0,905.3 L1752.2,898.1 L1753.5,890.9 L1755.3,882.5Z" fill="#adb3be"/>
<path d="M1536.2,959.2 L1539.5,953.9 L1540.9,948.7 L1539.2,944.4 L1535.6,940.3 L1532.8,936.0 L1532.3,930.9 L1532.5,925.5 L1531.5,922.2 L1527.9,922.1 L1522.9,923.9 L1518.2,925.7 L1514.3,926.2 L1510.5,926.5 L1506.9,927.9 L1502.5,930.8 L1498.2,934.8 L1496.1,938.8 L1497.7,942.8 L1501.5,946.8 L1505.3,951.2 L1507.9,956.7 L1510.5,962.4 L1514.1,966.2 L1519.7,967.0 L1526.4,965.8 L1532.0,963.3Z" fill="#adb3be"/>
<path d="M1599.8,922.7 L1607.4,921.2 L1614.6,920.0 L1620.5,920.5 L1626.0,921.2 L1631.0,920.2 L1635.2,916.5 L1639.0,911.1 L1642.4,905.3 L1646.1,898.9 L1649.5,892.1 L1650.6,886.0 L1647.9,880.9 L1642.9,876.5 L1637.2,873.4 L1630.7,871.3 L1623.5,870.4 L1617.5,871.9 L1613.8,877.2 L1611.4,884.9 L1608.8,891.6 L1605.1,895.7 L1601.2,898.7 L1598.1,902.7 L1595.6,909.3 L1593.9,916.7 L1594.8,921.8Z" fill="#adb3be"/>
<path d="M1484.6,724.7 L1486.3,721.7 L1486.6,719.0 L1484.6,716.8 L1481.1,714.7 L1477.6,712.0 L1474.7,707.1 L1471.8,701.4 L1468.8,698.3 L1465.4,699.7 L1461.8,703.5 L1458.7,707.3 L1456.2,710.0 L1454.2,712.6 L1452.9,715.5 L1452.1,719.5 L1452.1,723.8 L1453.3,727.4 L1456.6,729.5 L1461.1,730.8 L1465.7,732.2 L1470.0,734.7 L1474.4,737.3 L1477.9,738.1 L1480.1,735.9 L1481.5,731.8 L1482.8,727.8Z" fill="#adb3be"/>
<path d="M1719.2,710.2 L1715.3,703.3 L1710.9,697.6 L1706.8,694.3 L1702.3,692.2 L1698.1,690.3 L1694.6,688.3 L1691.4,686.5 L1687.8,685.2 L1683.2,684.2 L1678.2,683.7 L1673.7,684.5 L1669.4,687.0 L1665.6,690.9 L1664.2,694.9 L1666.6,698.9 L1671.4,703.1 L1676.0,707.1 L1679.1,710.7 L1682.0,714.2 L1685.5,716.9 L1690.1,718.7 L1695.3,719.8 L1701.0,720.1 L1708.1,719.6 L1715.6,718.3 L1719.9,715.6Z" fill="#adb3be"/>
<path d="M1434.2,1000.9 L1435.2,995.1 L1435.3,989.8 L1434.0,985.4 L1431.8,981.6 L1429.1,978.2 L1426.1,974.6 L1422.7,971.4 L1418.9,970.2 L1414.5,971.8 L1409.9,975.3 L1410.4,976.1 L1414.6,981.6 L1419.1,986.8 L1423.7,991.9 L1428.5,996.7 L1433.5,1001.4 L1433.9,1001.7Z" fill="#adb3be"/>
<path d="M1719.8,980.5 L1718.3,976.5 L1716.0,974.0 L1711.9,974.0 L1707.0,975.6 L1702.6,977.4 L1698.9,978.9 L1695.7,980.7 L1692.9,983.0 L1690.1,986.1 L1687.8,989.8 L1687.4,993.2 L1689.9,996.5 L1694.3,999.5 L1698.8,1001.3 L1702.8,1001.4 L1703.4,1000.9 L1709.2,996.2 L1714.7,991.4 L1719.7,986.4 L1721.8,984.1Z" fill="#adb3be"/>
<path d="M1498.7,577.8 L1496.8,574.8 L1494.0,572.8 L1489.8,572.5 L1484.7,573.1 L1480.2,573.8 L1477.4,574.2 L1475.2,574.7 L1472.3,575.4 L1467.1,576.4 L1461.1,577.7 L1457.9,579.2 L1459.4,581.3 L1463.5,583.8 L1467.9,586.2 L1471.6,588.9 L1475.5,591.6 L1479.6,592.9 L1484.1,592.1 L1488.8,590.0 L1492.8,587.7 L1495.9,585.5 L1498.3,583.1 L1499.3,580.7Z" fill="#a0a7b3"/>
<path d="M1658.9,629.4 L1659.9,627.4 L1660.2,625.0 L1659.7,622.4 L1658.6,619.6 L1656.7,616.7 L1653.7,613.1 L1649.8,609.4 L1646.2,607.6 L1642.9,608.8 L1639.8,611.8 L1637.7,615.1 L1637.1,618.3 L1637.4,621.7 L1638.2,625.0 L1639.4,628.2 L1641.1,631.2 L1643.2,633.4 L1646.0,634.4 L1649.2,634.6 L1652.1,634.3 L1654.3,633.7 L1656.1,632.6 L1657.6,631.2Z" fill="#a0a7b3"/>
<path d="M1411.9,873.1 L1415.9,876.2 L1419.2,877.0 L1421.9,873.7 L1424.0,868.1 L1425.2,862.5 L1425.2,857.3 L1424.2,852.2 L1422.4,848.6 L1419.4,847.6 L1415.5,848.2 L1411.9,848.6 L1408.6,847.8 L1405.6,846.7 L1403.0,847.1 L1400.9,849.8 L1399.2,853.9 L1398.2,858.1 L1397.8,862.4 L1398.1,866.8 L1399.3,869.9 L1401.6,870.8 L1404.8,870.4 L1408.2,870.7Z" fill="#a0a7b3"/>
<path d="M1683.4,899.3 L1684.0,904.1 L1686.4,907.6 L1691.8,909.6 L1698.8,910.3 L1705.4,909.6 L1710.8,906.8 L1715.7,902.4 L1719.7,897.7 L1723.0,892.6 L1725.4,887.2 L1725.3,883.0 L1721.1,880.9 L1714.5,880.0 L1708.3,879.2 L1704.0,877.8 L1700.3,876.5 L1696.2,876.2 L1690.9,877.5 L1685.3,879.8 L1681.5,882.7 L1680.7,886.3 L1681.7,890.4 L1683.0,894.7Z" fill="#a0a7b3"/>
<path d="M1460.0,997.1 L1460.0,1000.6 L1461.4,1002.8 L1464.9,1002.7 L1469.6,1001.2 L1473.8,999.4 L1477.0,997.4 L1479.7,995.0 L1481.9,992.4 L1484.0,989.4 L1485.7,986.1 L1486.0,983.5 L1483.9,981.7 L1480.2,980.6 L1476.6,980.2 L1473.3,980.6 L1469.9,981.6 L1467.1,983.0 L1465.1,984.6 L1463.6,986.5 L1462.3,988.5 L1461.3,990.2 L1460.6,991.9 L1460.3,994.0Z" fill="#a0a7b3"/>
<path d="M1660.9,1001.4 L1660.0,997.7 L1657.6,994.7 L1653.1,993.1 L1647.2,992.4 L1641.8,991.8 L1637.4,991.2 L1633.6,990.9 L1629.9,991.1 L1625.9,992.1 L1622.1,993.6 L1619.8,995.7 L1619.7,998.7 L1621.0,1002.2 L1623.6,1005.0 L1627.9,1006.6 L1633.5,1007.4 L1638.3,1007.8 L1641.5,1007.6 L1644.0,1006.9 L1647.0,1006.1 L1651.6,1005.8 L1656.7,1005.5 L1660.1,1004.3Z" fill="#a0a7b3"/>
<path d="M1527.1,663.9 L1529.1,662.3 L1530.1,660.4 L1529.7,658.4 L1528.4,656.3 L1526.8,653.7 L1525.0,649.8 L1522.8,645.5 L1520.6,643.5 L1518.7,645.6 L1516.6,650.0 L1514.3,653.9 L1510.7,656.1 L1506.8,657.7 L1505.0,659.4 L1507.0,661.3 L1511.0,663.2 L1514.6,665.0 L1516.6,666.9 L1518.1,668.7 L1519.6,669.6 L1521.4,668.9 L1523.3,667.3 L1525.1,665.5Z" fill="#a0a7b3"/>
<path d="M1593.3,604.9 L1589.1,597.8 L1584.4,590.9 L1579.6,582.9 L1574.3,574.9 L1568.5,570.7 L1561.5,572.6 L1554.1,578.2 L1547.8,584.3 L1543.4,589.7 L1540.2,595.7 L1537.6,602.0 L1535.0,609.2 L1533.1,616.9 L1533.3,623.8 L1536.8,629.4 L1542.5,634.2 L1548.5,638.2 L1554.6,642.0 L1561.0,645.0 L1567.3,645.7 L1573.4,643.4 L1579.4,638.9 L1584.6,633.4 L1589.4,626.9 L1593.4,619.4 L1595.1,612.0Z" fill="#c9ced6"/>
<path d="M1522.7,733.0 L1519.6,721.9 L1515.4,711.4 L1510.3,700.4 L1504.1,690.0 L1496.9,683.2 L1487.8,680.9 L1477.7,682.2 L1468.8,687.0 L1461.3,696.3 L1455.0,709.2 L1451.2,722.7 L1450.7,736.7 L1452.8,751.4 L1456.1,764.5 L1460.4,775.2 L1466.0,784.4 L1472.6,792.7 L1480.3,801.9 L1489.0,810.1 L1497.6,813.1 L1506.3,808.2 L1514.9,798.1 L1521.2,786.3 L1524.3,773.3 L1525.1,758.7 L1524.5,745.0Z" fill="#c9ced6"/>
<path d="M1658.6,741.7 L1658.7,728.5 L1656.4,716.9 L1650.1,706.0 L1641.4,696.6 L1632.6,692.4 L1624.5,696.2 L1616.3,705.3 L1608.8,714.4 L1601.8,721.2 L1595.4,728.1 L1590.4,736.8 L1586.9,748.8 L1584.8,762.6 L1585.3,775.9 L1589.1,788.8 L1595.4,801.2 L1603.0,810.2 L1612.0,814.5 L1622.3,815.3 L1632.1,813.6 L1641.7,809.5 L1650.7,802.8 L1657.1,794.0 L1659.3,782.4 L1658.9,768.7 L1658.1,755.0Z" fill="#c9ced6"/>
<path d="M1473.4,879.5 L1472.6,873.8 L1470.7,868.9 L1467.4,864.8 L1463.1,861.4 L1458.7,859.6 L1454.1,859.8 L1449.3,861.6 L1445.2,864.4 L1442.2,868.0 L1439.8,872.7 L1438.2,877.5 L1437.2,882.6 L1436.8,888.0 L1437.6,892.8 L1439.8,896.8 L1443.0,900.2 L1446.6,902.9 L1450.2,904.6 L1454.1,905.6 L1458.0,905.7 L1462.2,904.8 L1466.4,903.0 L1469.8,900.2 L1471.9,895.9 L1473.1,890.5 L1473.5,885.0Z" fill="#c9ced6"/>
<path d="M1573.6,554.5 L1573.3,548.8 L1572.0,544.1 L1569.5,541.1 L1565.9,539.1 L1562.4,538.2 L1559.1,538.2 L1555.8,539.3 L1553.1,541.3 L1551.4,544.7 L1550.1,549.1 L1549.0,553.7 L1547.3,558.6 L1545.6,563.8 L1545.3,568.4 L1547.0,572.2 L1550.1,575.4 L1553.3,578.2 L1556.4,581.5 L1559.8,584.5 L1562.8,585.4 L1565.6,582.8 L1568.1,578.2 L1570.2,573.4 L1571.7,569.1 L1572.8,564.7 L1573.4,560.0Z" fill="#c9ced6"/>
<path d="M1724.1,932.4 L1720.6,929.8 L1717.1,927.1 L1714.4,923.9 L1711.8,920.6 L1708.7,918.7 L1704.6,919.0 L1700.1,920.6 L1695.8,922.6 L1691.7,924.6 L1688.0,927.0 L1685.8,929.6 L1686.3,932.6 L1688.3,935.9 L1690.4,939.1 L1691.8,942.3 L1693.3,945.4 L1695.5,947.8 L1699.4,949.1 L1704.0,949.7 L1708.3,949.4 L1711.4,947.9 L1714.1,945.4 L1716.9,942.7 L1720.5,940.2 L1724.1,937.6 L1725.7,935.0Z" fill="#c9ced6"/>
<path d="M1545.5,855.4 L1544.7,850.4 L1542.1,846.6 L1537.2,844.6 L1530.6,843.6 L1524.1,843.2 L1518.2,842.9 L1512.4,843.2 L1507.5,844.4 L1503.5,847.0 L1500.4,850.5 L1498.2,854.3 L1496.5,858.2 L1495.8,862.3 L1496.4,866.2 L1498.7,870.0 L1502.5,873.5 L1507.0,876.3 L1512.5,878.0 L1518.8,879.0 L1524.6,878.7 L1529.5,877.0 L1534.0,874.0 L1537.8,870.8 L1541.1,867.5 L1543.8,863.9 L1545.2,860.0Z" fill="#c9ced6"/>
<path d="M1620.1,858.0 L1619.9,853.8 L1618.3,850.5 L1614.4,848.5 L1609.0,847.3 L1603.6,846.7 L1598.3,846.1 L1592.9,846.1 L1588.5,847.1 L1585.8,849.7 L1584.2,853.5 L1582.6,857.3 L1580.3,861.0 L1578.0,864.8 L1577.8,868.1 L1580.9,870.5 L1586.0,872.3 L1591.0,873.7 L1595.1,874.8 L1599.1,875.4 L1603.1,875.3 L1607.4,874.7 L1611.7,873.4 L1615.2,871.5 L1617.5,868.9 L1618.9,865.5 L1619.7,862.0Z" fill="#c9ced6"/>
<path d="M1568.3,643.7 L1567.7,638.1 L1566.8,632.8 L1565.5,627.2 L1563.7,621.9 L1561.8,618.9 L1559.7,619.0 L1557.3,621.3 L1555.1,624.6 L1553.0,628.4 L1551.1,633.2 L1549.8,638.8 L1549.2,645.9 L1549.2,653.9 L1549.8,661.1 L1551.1,667.2 L1552.8,672.4 L1554.9,676.7 L1557.1,680.0 L1559.5,682.3 L1561.9,682.8 L1564.6,681.1 L1567.2,677.6 L1569.0,672.7 L1569.5,665.9 L1569.2,657.6 L1568.7,650.0Z" fill="#c9ced6"/>
<path d="M1400.7,652.1 L1404.6,652.5 L1407.1,651.9 L1407.8,649.3 L1407.2,645.6 L1405.8,642.9 L1403.5,641.9 L1400.4,641.9 L1397.3,641.8 L1395.8,641.4 L1394.0,646.2 L1391.9,652.1 L1390.8,655.1 L1391.9,654.9 L1394.4,653.3 L1397.1,652.1Z" fill="#b3bac5"/>
<path d="M1566.1,613.3 L1566.2,610.2 L1566.2,607.4 L1566.7,605.4 L1567.2,603.6 L1567.0,602.2 L1565.7,601.3 L1563.7,600.7 L1561.7,600.6 L1560.0,601.0 L1558.4,601.8 L1557.1,602.9 L1556.4,604.1 L1556.0,605.5 L1555.7,607.3 L1555.1,610.2 L1554.7,613.5 L1555.4,615.8 L1558.2,616.7 L1562.1,616.6 L1565.1,615.6Z" fill="#a0a7b3"/>
<path d="M1585.0,758.3 L1587.5,757.0 L1588.4,755.2 L1586.7,752.5 L1583.6,749.1 L1580.3,746.2 L1577.1,743.7 L1573.9,741.6 L1571.4,740.9 L1569.9,741.9 L1569.1,744.2 L1568.5,746.9 L1567.5,750.0 L1566.7,753.4 L1567.2,756.0 L1570.0,757.2 L1574.1,757.6 L1577.6,757.9 L1579.6,758.5 L1581.1,759.0 L1582.7,759.0Z" fill="#adb3be"/>
<path d="M1628.2,898.1 L1629.7,899.0 L1631.1,899.6 L1632.1,899.8 L1633.0,899.7 L1633.9,899.4 L1634.6,898.8 L1635.3,898.0 L1635.6,897.0 L1635.5,896.1 L1635.0,895.1 L1634.4,894.1 L1633.7,892.8 L1633.0,891.5 L1632.2,890.8 L1631.3,891.1 L1630.3,891.9 L1629.4,893.0 L1628.5,894.3 L1627.6,895.8 L1627.4,897.1Z" fill="#a0a7b3"/>
<path d="M1480.8,697.0 L1483.3,696.2 L1485.5,695.3 L1487.0,694.5 L1488.3,693.5 L1490.0,691.9 L1493.2,689.1 L1496.9,685.7 L1498.5,683.0 L1496.6,681.6 L1492.7,680.9 L1488.9,680.7 L1486.2,680.9 L1483.7,681.5 L1481.2,682.7 L1478.5,684.8 L1475.8,687.4 L1474.4,690.0 L1474.8,692.6 L1476.6,695.2 L1478.6,696.8Z" fill="#a0a7b3"/>
<path d="M1526.5,571.9 L1530.0,570.5 L1531.2,569.0 L1528.5,567.2 L1523.5,565.4 L1518.6,563.3 L1514.1,560.2 L1509.7,557.0 L1506.3,555.5 L1504.2,557.0 L1503.2,560.4 L1503.2,564.0 L1504.5,567.2 L1506.8,570.7 L1509.7,573.9 L1513.6,577.3 L1518.0,580.5 L1521.5,581.9 L1522.7,580.2 L1522.9,576.8 L1523.6,573.7Z" fill="#a0a7b3"/>
<path d="M1621.0,685.6 L1622.7,685.8 L1624.5,685.9 L1626.7,686.3 L1629.1,686.6 L1630.8,686.1 L1631.4,684.5 L1631.2,682.2 L1630.9,679.7 L1630.8,676.8 L1630.6,673.7 L1629.5,671.6 L1626.9,671.0 L1623.6,671.3 L1620.7,672.3 L1618.7,674.1 L1617.2,676.6 L1616.5,679.0 L1616.9,681.2 L1618.1,683.3 L1619.5,684.9Z" fill="#c9ced6"/>
<path d="M1632.7,896.3 L1634.6,896.8 L1636.9,896.8 L1640.4,896.4 L1644.3,895.5 L1647.2,893.8 L1648.4,890.4 L1648.5,886.1 L1647.7,882.5 L1645.8,880.4 L1643.0,879.0 L1639.8,878.2 L1636.4,877.6 L1632.8,877.6 L1629.5,878.7 L1626.4,881.8 L1623.6,886.0 L1622.5,889.7 L1624.2,892.1 L1627.5,893.9 L1630.6,895.3Z" fill="#a0a7b3"/>
<path d="M1726.5,741.1 L1726.4,737.7 L1725.7,734.3 L1724.6,731.3 L1722.9,728.4 L1720.9,726.2 L1718.4,724.7 L1715.6,723.8 L1713.2,723.7 L1711.3,724.4 L1709.8,726.0 L1709.1,727.8 L1709.7,729.8 L1711.1,732.1 L1712.7,734.3 L1713.9,736.4 L1715.1,738.4 L1716.9,740.1 L1719.8,741.8 L1723.2,743.2 L1725.6,743.2Z" fill="#c9ced6"/>
<path d="M1726.8,674.8 L1729.0,676.5 L1730.8,676.9 L1731.9,675.1 L1732.6,672.0 L1733.0,668.7 L1733.4,665.4 L1733.6,661.9 L1732.9,659.5 L1730.7,658.7 L1727.7,658.8 L1724.8,659.5 L1722.0,660.4 L1719.4,661.8 L1717.6,663.8 L1717.1,666.7 L1717.5,670.2 L1718.5,672.7 L1720.1,673.5 L1722.3,673.3 L1724.6,673.4Z" fill="#adb3be"/>
<path d="M1436.0,623.4 L1436.0,626.7 L1437.2,628.6 L1440.5,628.3 L1444.9,626.7 L1448.5,624.6 L1450.2,622.4 L1451.0,619.8 L1451.6,617.0 L1452.8,613.7 L1453.9,610.2 L1453.4,607.9 L1450.6,607.6 L1446.3,608.4 L1442.0,609.5 L1437.6,610.3 L1433.1,611.3 L1430.5,612.8 L1431.1,614.9 L1433.5,617.5 L1435.5,620.2Z" fill="#adb3be"/>
<path d="M1445.4,988.3 L1447.3,988.0 L1448.9,987.0 L1450.0,984.8 L1450.7,981.7 L1451.0,979.1 L1450.6,977.5 L1449.7,976.5 L1448.8,975.8 L1448.2,975.3 L1447.5,975.2 L1446.6,975.2 L1444.9,974.9 L1443.0,974.8 L1441.6,975.5 L1441.1,977.7 L1441.1,980.7 L1441.5,983.3 L1442.0,985.3 L1442.7,986.9 L1443.8,987.9Z" fill="#b3bac5"/>
<path d="M1693.9,947.5 L1694.0,946.3 L1693.9,945.2 L1693.4,944.5 L1692.6,943.9 L1691.8,943.5 L1690.9,943.4 L1689.9,943.5 L1689.1,943.9 L1688.4,944.6 L1687.9,945.5 L1687.6,946.3 L1687.9,947.0 L1688.4,947.6 L1689.0,948.1 L1689.5,948.6 L1690.0,949.0 L1690.6,949.2 L1691.6,949.2 L1692.7,949.0 L1693.5,948.5Z" fill="#a0a7b3"/>
<path d="M1450.9,986.6 L1451.5,986.1 L1452.1,985.3 L1453.2,984.2 L1454.5,982.9 L1455.0,981.9 L1454.1,981.1 L1452.4,980.5 L1451.0,980.2 L1450.0,980.4 L1449.2,980.8 L1448.5,981.3 L1447.8,981.8 L1447.2,982.3 L1446.7,983.2 L1446.2,984.7 L1445.9,986.4 L1446.1,987.6 L1447.2,987.8 L1448.8,987.5 L1450.1,987.0Z" fill="#c9ced6"/>
<path d="M1656.9,639.9 L1658.2,639.9 L1659.8,639.7 L1662.2,639.3 L1664.9,638.8 L1666.2,637.9 L1665.1,636.6 L1662.6,635.1 L1660.4,633.4 L1659.1,631.2 L1658.1,628.8 L1657.1,627.5 L1655.7,628.2 L1654.3,630.0 L1652.8,631.8 L1651.0,633.4 L1649.2,635.1 L1648.6,636.5 L1650.1,637.8 L1652.8,638.8 L1655.3,639.5Z" fill="#b3bac5"/>
<path d="M1517.7,847.6 L1520.9,848.9 L1523.3,848.6 L1524.7,845.0 L1525.3,839.7 L1525.0,835.0 L1523.6,831.4 L1521.3,828.3 L1518.8,825.9 L1515.9,824.3 L1512.8,823.5 L1509.9,824.1 L1507.4,826.7 L1505.1,830.7 L1503.9,834.8 L1504.2,839.3 L1505.6,843.9 L1507.4,847.0 L1509.5,847.7 L1512.0,846.9 L1514.7,846.5Z" fill="#a0a7b3"/>
<path d="M1593.7,634.6 L1594.7,632.3 L1595.8,630.1 L1597.2,628.5 L1598.7,626.9 L1599.4,625.4 L1598.7,623.7 L1597.2,622.1 L1595.6,620.9 L1594.1,620.2 L1592.4,619.9 L1590.7,620.1 L1588.4,621.1 L1586.0,622.6 L1584.8,624.3 L1585.6,626.2 L1587.6,628.3 L1589.4,630.4 L1590.6,632.6 L1591.6,634.7 L1592.7,635.7Z" fill="#a0a7b3"/>
<path d="M1688.2,733.3 L1689.5,732.7 L1690.1,731.9 L1689.4,730.8 L1687.9,729.6 L1686.4,728.7 L1684.9,728.1 L1683.2,727.8 L1681.9,728.0 L1681.1,728.8 L1680.5,730.0 L1680.4,731.3 L1680.8,732.5 L1681.5,733.8 L1682.4,734.7 L1683.5,735.2 L1684.7,735.4 L1685.7,735.3 L1686.2,735.0 L1686.5,734.5 L1687.1,733.9Z" fill="#adb3be"/>
<path d="M1675.7,735.0 L1675.7,733.0 L1675.7,730.9 L1676.1,728.7 L1676.5,726.4 L1676.3,724.9 L1674.8,724.7 L1672.6,725.3 L1670.8,726.0 L1669.7,726.3 L1668.9,726.7 L1668.1,727.4 L1666.9,728.5 L1665.8,729.9 L1665.4,731.5 L1666.1,733.4 L1667.6,735.5 L1669.2,737.0 L1671.3,737.4 L1673.5,737.2 L1675.1,736.5Z" fill="#c9ced6"/>
<path d="M1501.4,782.4 L1503.2,782.6 L1504.8,782.6 L1505.8,782.4 L1506.7,781.9 L1507.6,781.4 L1508.7,780.9 L1509.9,780.2 L1510.6,779.5 L1510.8,778.3 L1510.5,777.1 L1509.9,776.3 L1508.8,776.4 L1507.4,777.0 L1506.0,777.5 L1504.7,777.7 L1503.5,777.7 L1502.4,778.1 L1501.4,779.3 L1500.5,780.8 L1500.4,781.9Z" fill="#b3bac5"/>
<path d="M1588.5,933.1 L1590.6,936.7 L1593.3,938.2 L1597.4,935.9 L1602.2,931.6 L1605.8,927.2 L1607.9,923.4 L1608.8,919.5 L1608.7,916.5 L1607.2,914.9 L1604.6,914.1 L1601.7,913.4 L1598.6,912.0 L1595.2,910.5 L1592.2,910.7 L1589.7,913.5 L1587.5,917.9 L1586.1,921.9 L1585.7,924.7 L1586.1,927.1 L1587.1,929.6Z" fill="#adb3be"/>
<path d="M1708.7,659.4 L1709.3,658.1 L1709.4,656.8 L1708.8,655.6 L1707.7,654.5 L1706.5,653.6 L1705.2,652.9 L1703.9,652.5 L1702.6,652.4 L1701.4,653.0 L1700.2,653.9 L1699.5,655.0 L1699.4,656.4 L1699.8,658.0 L1700.5,659.4 L1701.5,660.3 L1702.9,660.9 L1704.3,661.2 L1705.5,661.2 L1706.8,661.0 L1707.8,660.4Z" fill="#b3bac5"/>
<path d="M1602.9,695.8 L1604.3,694.8 L1605.2,693.7 L1605.3,692.4 L1604.9,691.0 L1604.2,689.7 L1603.5,688.6 L1602.4,687.7 L1601.2,687.1 L1599.6,686.7 L1597.8,686.7 L1596.1,687.2 L1594.3,688.5 L1592.6,690.2 L1591.8,692.0 L1592.4,693.8 L1593.9,695.7 L1595.6,697.0 L1597.4,697.3 L1599.4,697.0 L1601.3,696.5Z" fill="#adb3be"/>
<path d="M1524.5,903.8 L1525.1,903.4 L1525.5,902.9 L1525.7,902.3 L1525.8,901.7 L1525.8,901.1 L1525.6,900.4 L1525.3,899.8 L1524.8,899.2 L1523.9,898.6 L1522.8,898.0 L1521.7,897.9 L1520.6,898.5 L1519.6,899.6 L1519.0,900.7 L1519.3,901.8 L1520.1,903.0 L1521.0,903.8 L1521.9,904.2 L1522.9,904.2 L1523.8,904.1Z" fill="#a0a7b3"/>
<path d="M1537.3,883.8 L1537.7,882.1 L1537.4,880.1 L1536.2,877.6 L1534.2,875.0 L1532.2,873.2 L1530.1,872.7 L1528.0,873.0 L1526.3,873.6 L1525.6,874.4 L1525.3,875.5 L1525.1,876.9 L1524.4,878.6 L1523.8,880.5 L1524.1,882.2 L1526.0,883.5 L1528.7,884.7 L1531.2,885.4 L1533.3,885.7 L1535.1,885.7 L1536.4,885.1Z" fill="#adb3be"/>
<path d="M1423.8,676.9 L1426.0,676.9 L1427.6,676.3 L1428.1,674.6 L1427.9,672.2 L1427.4,670.1 L1426.6,668.3 L1425.6,666.8 L1424.4,666.0 L1423.0,666.0 L1421.5,666.7 L1420.2,667.5 L1419.4,668.2 L1419.0,669.1 L1418.4,670.2 L1417.3,672.0 L1416.1,674.0 L1415.9,675.6 L1417.1,676.4 L1419.3,676.6 L1421.6,676.7Z" fill="#adb3be"/>
<path d="M1536.1,891.7 L1538.2,888.5 L1540.1,885.5 L1542.1,883.2 L1543.8,881.0 L1544.2,879.1 L1542.7,877.8 L1540.0,876.8 L1537.3,875.7 L1534.8,873.9 L1532.4,872.1 L1530.1,871.4 L1527.4,872.7 L1524.9,875.3 L1523.4,878.0 L1523.5,880.7 L1524.7,883.6 L1526.4,886.3 L1528.6,889.3 L1531.3,892.0 L1533.9,893.2Z" fill="#b3bac5"/>
<path d="M1608.3,626.0 L1610.2,624.1 L1612.1,621.5 L1614.2,618.3 L1616.3,614.4 L1617.3,610.4 L1616.5,606.1 L1614.5,601.7 L1612.1,598.4 L1609.1,596.4 L1605.6,595.4 L1603.1,596.4 L1602.3,600.6 L1602.4,606.7 L1602.6,611.9 L1602.3,615.2 L1602.1,617.7 L1602.3,620.0 L1603.3,622.7 L1604.8,625.3 L1606.5,626.6Z" fill="#b3bac5"/>
<path d="M1538.6,980.4 L1538.6,979.0 L1538.6,977.5 L1538.6,975.6 L1538.5,973.5 L1537.9,971.9 L1536.2,971.2 L1534.0,971.0 L1532.0,971.3 L1530.3,972.0 L1528.9,973.2 L1528.1,974.7 L1528.2,976.5 L1529.0,978.5 L1530.1,980.0 L1531.4,980.8 L1533.0,981.0 L1534.5,981.1 L1535.9,981.4 L1537.3,981.5 L1538.2,981.3Z" fill="#adb3be"/>
<path d="M1657.7,695.8 L1658.9,693.3 L1659.8,690.8 L1660.6,688.6 L1661.1,686.2 L1661.1,684.0 L1660.3,681.6 L1658.9,679.3 L1657.4,678.1 L1656.2,678.5 L1654.9,680.0 L1653.6,681.5 L1652.1,682.6 L1650.6,683.6 L1649.8,684.9 L1650.4,686.5 L1651.7,688.4 L1653.0,690.3 L1654.2,692.9 L1655.4,695.5 L1656.5,696.8Z" fill="#a0a7b3"/>
<path d="M1690.0,805.1 L1691.6,805.4 L1692.7,804.9 L1693.1,803.0 L1692.9,800.3 L1692.6,798.0 L1692.2,796.6 L1691.6,795.7 L1690.9,794.9 L1690.1,794.0 L1689.2,793.1 L1688.3,793.0 L1687.3,793.7 L1686.3,795.1 L1685.5,796.8 L1685.0,799.0 L1684.6,801.5 L1684.8,803.4 L1685.7,804.3 L1687.1,804.6 L1688.5,804.7Z" fill="#adb3be"/>
<path d="M1499.6,949.1 L1503.3,947.5 L1506.3,945.3 L1507.9,942.5 L1508.8,939.1 L1509.3,936.0 L1509.3,933.8 L1508.9,931.9 L1508.2,929.8 L1507.2,926.7 L1505.9,923.4 L1504.0,921.8 L1501.0,922.7 L1497.5,925.3 L1495.0,928.3 L1494.5,931.4 L1495.0,934.9 L1495.6,938.4 L1495.7,942.5 L1495.8,946.6 L1496.8,949.1Z" fill="#c9ced6"/>
<path d="M1735.2,894.7 L1737.7,893.5 L1738.6,892.0 L1737.1,889.8 L1734.1,887.4 L1731.3,885.0 L1729.1,882.3 L1727.0,879.7 L1725.0,878.3 L1722.6,878.6 L1720.3,880.1 L1719.0,882.1 L1719.3,884.6 L1720.7,887.6 L1722.2,890.8 L1723.6,894.5 L1725.1,898.4 L1726.8,900.6 L1728.7,900.1 L1730.7,898.0 L1732.8,895.9Z" fill="#adb3be"/>
<path d="M1651.2,849.9 L1651.6,846.5 L1650.7,844.2 L1647.8,843.8 L1643.7,844.6 L1639.8,845.4 L1636.2,845.7 L1632.8,846.1 L1630.6,847.1 L1629.9,849.5 L1630.3,852.5 L1631.5,854.9 L1633.7,856.0 L1636.6,856.6 L1639.3,856.9 L1641.5,857.2 L1643.4,857.2 L1645.2,856.8 L1647.1,855.9 L1649.0,854.6 L1650.3,852.8Z" fill="#a0a7b3"/>
<path d="M1590.4,988.0 L1591.6,986.6 L1592.3,984.9 L1592.3,982.6 L1591.7,980.1 L1590.7,978.2 L1589.0,977.3 L1586.8,977.1 L1584.8,977.2 L1583.0,977.4 L1581.3,977.9 L1580.2,978.8 L1580.2,980.2 L1580.7,982.0 L1581.2,984.2 L1581.4,987.4 L1581.5,991.0 L1582.3,993.2 L1584.2,992.9 L1586.7,991.1 L1588.9,989.3Z" fill="#c9ced6"/>
<path d="M1649.9,567.8 L1651.8,569.8 L1654.5,571.3 L1659.0,572.2 L1664.5,572.6 L1669.0,571.8 L1671.7,569.4 L1673.5,565.8 L1674.8,562.3 L1675.8,559.3 L1676.1,557.9 L1675.3,557.1 L1670.8,553.1 L1669.6,552.2 L1667.9,551.9 L1663.1,551.9 L1657.5,552.7 L1651.6,554.1 L1647.5,556.1 L1646.5,559.0 L1647.3,562.4 L1648.6,565.5Z" fill="#a0a7b3"/>
<path d="M1743.6,738.9 L1743.4,736.9 L1742.6,735.0 L1740.9,732.9 L1738.7,730.9 L1736.6,729.8 L1734.8,730.2 L1733.2,731.5 L1731.8,732.8 L1730.6,733.6 L1729.6,734.5 L1729.2,735.6 L1729.4,737.1 L1730.2,738.8 L1731.5,740.4 L1733.6,742.0 L1736.1,743.5 L1738.5,744.1 L1740.4,743.6 L1742.1,742.2 L1743.2,740.7Z" fill="#c9ced6"/>
<path d="M1560.2,883.1 L1562.9,883.8 L1565.6,884.1 L1568.3,884.2 L1571.0,883.9 L1572.6,882.8 L1572.4,880.9 L1571.1,878.2 L1569.8,875.5 L1569.2,872.6 L1568.6,869.6 L1567.6,867.7 L1565.5,867.6 L1562.9,868.6 L1560.8,869.9 L1559.9,871.3 L1559.5,872.9 L1559.2,874.8 L1558.6,877.2 L1558.0,879.8 L1558.3,881.8Z" fill="#c9ced6"/>
<path d="M1550.1,758.9 L1550.3,757.1 L1549.8,755.3 L1548.3,754.0 L1546.0,752.8 L1543.5,751.3 L1540.4,748.9 L1537.1,746.2 L1534.3,744.9 L1532.2,745.9 L1530.7,748.4 L1530.5,750.9 L1532.4,753.2 L1535.6,755.5 L1538.6,757.7 L1540.8,759.9 L1542.8,761.9 L1544.7,763.1 L1546.5,762.9 L1548.2,761.9 L1549.4,760.5Z" fill="#a0a7b3"/>
<path d="M1575.8,620.4 L1579.0,622.2 L1582.3,622.7 L1585.4,620.7 L1588.7,617.2 L1591.8,614.0 L1595.0,611.9 L1598.0,610.1 L1600.0,608.1 L1600.7,605.3 L1600.2,602.3 L1598.6,600.4 L1595.3,600.3 L1590.8,601.4 L1587.0,602.9 L1584.6,604.8 L1582.8,607.2 L1581.0,609.8 L1578.3,612.6 L1575.5,615.5 L1574.3,618.1Z" fill="#c9ced6"/>
<path d="M1411.9,868.4 L1415.2,866.1 L1418.1,863.9 L1420.0,862.4 L1421.3,861.0 L1422.4,859.2 L1423.6,856.9 L1424.5,854.2 L1424.5,851.7 L1423.3,849.2 L1421.1,847.0 L1418.8,845.9 L1416.3,846.9 L1413.7,849.1 L1411.3,851.5 L1409.1,854.0 L1407.1,856.7 L1406.1,859.6 L1406.3,863.1 L1407.4,866.9 L1409.2,869.0Z" fill="#b3bac5"/>
<path d="M1676.0,769.1 L1679.2,768.9 L1680.9,767.6 L1680.2,764.7 L1678.0,760.8 L1675.6,757.5 L1673.1,755.2 L1670.4,753.5 L1667.8,752.7 L1665.3,752.9 L1662.8,754.0 L1661.4,755.7 L1661.6,758.4 L1662.8,761.8 L1664.2,764.7 L1665.6,766.9 L1667.2,768.7 L1668.8,769.8 L1670.1,770.1 L1671.5,769.8 L1673.2,769.3Z" fill="#adb3be"/>
<path d="M1636.8,836.5 L1637.9,835.5 L1638.6,834.2 L1638.8,832.7 L1638.6,830.9 L1638.1,829.4 L1637.2,828.2 L1636.0,827.2 L1634.6,826.4 L1632.6,825.7 L1630.4,825.1 L1628.8,825.4 L1628.4,827.0 L1628.6,829.5 L1628.9,831.9 L1629.0,834.2 L1629.2,836.6 L1629.9,838.1 L1631.4,838.5 L1633.5,838.0 L1635.4,837.3Z" fill="#c9ced6"/>
<path d="M1461.2,668.7 L1462.3,668.0 L1463.1,667.0 L1463.3,665.5 L1463.0,663.8 L1462.6,662.2 L1462.0,661.1 L1461.2,660.2 L1460.3,659.3 L1458.9,658.3 L1457.4,657.4 L1456.2,657.3 L1455.8,658.6 L1455.8,660.8 L1455.8,663.0 L1455.5,665.2 L1455.3,667.3 L1455.6,668.9 L1456.8,669.5 L1458.4,669.5 L1460.0,669.2Z" fill="#a0a7b3"/>
<path d="M1699.1,641.8 L1700.4,644.3 L1702.5,645.4 L1706.8,644.3 L1711.9,641.7 L1715.3,638.8 L1715.3,636.1 L1713.4,633.0 L1712.1,629.7 L1712.9,625.3 L1714.2,620.7 L1713.9,618.0 L1710.4,618.4 L1705.3,620.9 L1700.8,623.8 L1697.5,627.1 L1694.9,630.8 L1693.6,634.0 L1694.2,636.2 L1696.0,637.7 L1697.9,639.3Z" fill="#a0a7b3"/>
<path d="M1753.0,793.1 L1754.1,790.1 L1753.8,787.4 L1751.6,785.2 L1748.0,783.3 L1744.6,782.0 L1741.5,781.2 L1738.6,781.0 L1736.5,781.6 L1735.5,783.0 L1735.3,785.2 L1735.2,787.6 L1734.7,790.5 L1734.3,793.7 L1734.9,795.8 L1737.2,795.9 L1740.6,794.9 L1743.8,794.2 L1746.6,794.6 L1749.3,795.3 L1751.4,795.1Z" fill="#c9ced6"/>
<path d="M1581.1,1030.2 L1582.4,1027.1 L1582.7,1023.7 L1581.5,1020.0 L1579.3,1016.0 L1576.6,1012.7 L1573.6,1010.0 L1570.1,1008.0 L1566.9,1007.0 L1563.6,1007.4 L1560.6,1008.9 L1558.9,1011.2 L1559.5,1014.3 L1561.5,1018.1 L1563.6,1022.3 L1565.1,1027.5 L1566.6,1033.0 L1568.7,1036.5 L1572.0,1036.8 L1575.8,1035.1 L1579.0,1032.8Z" fill="#a0a7b3"/>
<path d="M1573.4,735.8 L1575.9,734.7 L1578.4,733.3 L1580.7,732.2 L1583.0,730.8 L1584.7,729.1 L1585.9,726.5 L1586.7,723.6 L1586.6,721.4 L1585.2,720.8 L1583.1,721.1 L1580.8,721.3 L1578.7,720.7 L1576.4,720.1 L1574.5,720.5 L1573.2,722.7 L1572.2,725.8 L1571.5,728.8 L1571.1,731.6 L1570.9,734.3 L1571.6,735.9Z" fill="#adb3be"/>
<path d="M1719.7,795.1 L1722.3,793.5 L1724.9,791.9 L1727.8,790.9 L1730.7,790.1 L1732.5,788.9 L1732.3,787.0 L1730.9,784.7 L1729.6,782.6 L1728.8,780.7 L1728.1,779.0 L1727.0,778.2 L1725.4,778.8 L1723.5,780.3 L1721.4,782.1 L1718.8,784.0 L1715.9,786.3 L1714.3,788.6 L1714.5,791.3 L1715.8,794.0 L1717.6,795.6Z" fill="#a0a7b3"/>
<path d="M1595.2,642.7 L1595.2,641.3 L1594.6,640.3 L1592.9,640.1 L1590.5,640.4 L1588.0,640.6 L1584.8,640.6 L1581.3,640.5 L1579.5,640.9 L1580.4,642.0 L1583.0,643.4 L1585.1,644.8 L1586.0,646.0 L1586.5,647.1 L1587.4,647.8 L1589.4,648.0 L1591.8,647.7 L1593.7,647.2 L1594.5,646.3 L1594.9,645.2 L1595.0,644.0Z" fill="#b3bac5"/>
<path d="M1653.7,998.3 L1654.9,997.6 L1655.5,996.5 L1655.3,995.0 L1654.5,993.2 L1653.5,991.8 L1652.2,990.9 L1650.6,990.4 L1649.1,990.4 L1648.0,990.9 L1647.1,991.9 L1646.5,993.0 L1646.1,994.2 L1646.1,995.5 L1646.3,996.8 L1647.0,998.4 L1647.9,999.9 L1649.0,1000.8 L1650.1,1000.7 L1651.3,999.9 L1652.5,999.0Z" fill="#b3bac5"/>
<path d="M1545.6,755.9 L1548.3,757.7 L1551.1,758.9 L1553.9,759.9 L1556.8,760.4 L1559.0,759.9 L1560.4,757.9 L1561.1,754.9 L1561.3,752.1 L1560.9,749.7 L1560.0,747.5 L1558.8,745.8 L1557.1,745.0 L1555.2,744.7 L1553.2,744.8 L1551.4,744.9 L1549.6,745.4 L1547.9,746.5 L1546.1,748.6 L1544.5,751.4 L1544.0,753.9Z" fill="#adb3be"/>
<path d="M1499.5,916.5 L1500.5,916.7 L1501.4,916.4 L1502.3,915.4 L1503.1,914.0 L1503.5,912.6 L1503.4,911.3 L1503.0,910.0 L1502.4,909.2 L1501.7,909.1 L1500.8,909.5 L1499.9,909.9 L1498.8,910.0 L1497.8,910.2 L1497.1,910.6 L1497.1,911.5 L1497.5,912.7 L1497.9,913.9 L1498.1,914.8 L1498.3,915.6 L1498.7,916.2Z" fill="#b3bac5"/>
<path d="M1704.8,601.6 L1705.2,599.8 L1704.7,598.3 L1702.9,597.6 L1700.1,597.3 L1697.4,597.4 L1694.7,597.7 L1691.9,598.3 L1690.4,599.2 L1690.8,600.5 L1692.5,602.2 L1693.9,604.0 L1694.3,606.4 L1694.6,609.0 L1695.5,610.5 L1697.7,610.1 L1700.5,608.7 L1702.8,607.2 L1703.8,606.0 L1704.1,604.7 L1704.4,603.3Z" fill="#c9ced6"/>
<path d="M1717.0,744.6 L1716.3,743.3 L1715.2,742.1 L1713.7,740.7 L1711.9,739.4 L1709.9,738.7 L1707.4,738.9 L1704.7,739.8 L1703.3,740.9 L1703.9,742.3 L1705.8,743.9 L1707.4,745.4 L1707.9,747.0 L1708.1,748.5 L1708.7,749.4 L1710.0,749.2 L1711.8,748.4 L1713.4,747.6 L1714.9,747.0 L1716.3,746.4 L1717.1,745.7Z" fill="#c9ced6"/>
<path d="M1462.8,691.9 L1464.7,691.7 L1466.1,690.7 L1466.9,688.7 L1467.2,686.0 L1467.2,683.5 L1466.9,681.7 L1466.2,680.1 L1465.5,679.2 L1464.6,679.1 L1463.6,679.6 L1462.3,680.0 L1460.3,679.9 L1458.0,679.8 L1456.6,680.4 L1456.4,682.6 L1457.1,685.5 L1457.9,687.9 L1458.8,689.6 L1459.8,690.8 L1461.1,691.6Z" fill="#adb3be"/>
<path d="M1744.7,900.8 L1745.1,898.9 L1745.0,897.4 L1744.1,896.6 L1742.7,896.1 L1741.3,895.7 L1740.2,895.1 L1739.2,894.5 L1738.1,894.5 L1736.7,895.1 L1735.2,896.1 L1734.4,897.2 L1735.0,898.2 L1736.2,899.2 L1737.4,900.2 L1738.0,901.3 L1738.5,902.4 L1739.2,903.1 L1740.7,903.2 L1742.5,903.0 L1743.9,902.3Z" fill="#c9ced6"/>
<path d="M1610.9,920.0 L1612.4,921.6 L1613.9,922.2 L1615.3,921.2 L1616.8,919.2 L1617.8,917.3 L1618.2,915.9 L1618.3,914.6 L1618.1,913.3 L1617.8,911.8 L1617.2,910.4 L1616.4,909.5 L1615.1,909.6 L1613.5,910.3 L1612.1,911.1 L1611.0,912.0 L1610.1,913.1 L1609.5,914.3 L1609.3,915.6 L1609.4,917.0 L1609.8,918.4Z" fill="#c9ced6"/>
<path d="M1392.4,938.8 L1395.0,935.9 L1397.0,932.9 L1398.6,929.9 L1399.8,926.7 L1400.0,924.0 L1398.9,921.6 L1396.8,919.6 L1394.5,918.7 L1391.8,919.7 L1388.8,921.9 L1386.4,924.2 L1385.3,926.0 L1386.8,930.5 L1389.6,938.1 L1390.4,940.2Z" fill="#adb3be"/>
<path d="M1763.3,753.5 L1764.1,753.4 L1763.4,748.2 L1762.0,740.2 L1761.3,740.6 L1759.7,741.1 L1758.2,741.6 L1757.0,742.5 L1756.2,744.3 L1755.7,746.6 L1755.8,748.7 L1757.0,750.5 L1758.8,752.1 L1760.8,753.1Z" fill="#c9ced6"/>
<path d="M1457.5,812.5 L1457.3,809.8 L1456.2,807.5 L1454.0,806.0 L1450.9,804.8 L1447.2,803.0 L1442.3,799.5 L1436.7,795.4 L1432.2,793.5 L1429.0,795.5 L1426.8,799.7 L1426.8,803.7 L1430.0,806.9 L1435.4,810.0 L1440.5,813.2 L1444.8,817.3 L1448.8,821.5 L1452.0,823.6 L1454.4,822.1 L1456.1,818.6 L1457.1,815.2Z" fill="#c9ced6"/>
<path d="M1456.1,908.5 L1455.7,906.2 L1454.8,904.6 L1453.3,904.2 L1451.3,904.5 L1449.6,905.0 L1448.6,905.6 L1448.0,906.3 L1447.4,907.1 L1446.9,907.9 L1446.5,908.6 L1446.3,909.6 L1446.1,911.1 L1446.2,912.8 L1446.8,914.2 L1448.2,915.1 L1450.1,915.6 L1452.0,915.5 L1453.6,914.4 L1455.1,912.6 L1456.0,910.7Z" fill="#a0a7b3"/>
<path d="M1686.1,727.5 L1687.8,725.9 L1689.5,724.3 L1691.4,723.1 L1693.4,721.9 L1694.5,720.6 L1694.2,719.1 L1693.1,717.6 L1692.1,716.1 L1691.4,714.1 L1690.7,712.2 L1689.7,711.3 L1688.1,712.1 L1686.1,714.0 L1684.6,716.1 L1684.0,718.1 L1683.9,720.3 L1683.9,722.3 L1684.0,724.6 L1684.2,726.8 L1684.8,728.0Z" fill="#adb3be"/>
<path d="M1593.1,804.5 L1591.6,802.2 L1589.6,799.8 L1587.4,797.1 L1584.8,794.5 L1582.3,793.2 L1580.4,794.4 L1578.8,797.1 L1576.9,799.6 L1574.0,801.5 L1571.0,803.2 L1569.8,804.9 L1571.8,806.7 L1575.6,808.4 L1579.2,809.6 L1581.7,809.9 L1584.0,809.7 L1586.3,809.2 L1589.1,808.6 L1591.8,807.7 L1593.4,806.4Z" fill="#b3bac5"/>
<path d="M1402.8,851.5 L1403.7,847.9 L1403.5,844.1 L1402.2,840.0 L1399.8,835.7 L1397.0,832.4 L1393.5,830.5 L1389.7,829.7 L1386.6,829.8 L1384.9,831.3 L1383.9,833.9 L1383.6,836.5 L1383.7,838.9 L1384.5,841.5 L1385.6,843.7 L1387.1,845.4 L1389.1,846.8 L1391.5,848.3 L1394.7,850.5 L1398.3,852.8 L1401.2,853.5Z" fill="#c9ced6"/>
<path d="M1511.5,668.4 L1513.5,668.5 L1515.5,668.6 L1517.8,668.7 L1520.1,668.7 L1521.6,668.1 L1521.6,666.5 L1520.8,664.3 L1520.0,662.4 L1519.6,661.0 L1519.1,659.8 L1518.3,658.8 L1517.0,658.2 L1515.3,657.8 L1513.6,657.9 L1512.0,658.8 L1510.4,660.2 L1509.3,661.8 L1509.0,663.8 L1509.3,666.0 L1510.0,667.6Z" fill="#a0a7b3"/>
<path d="M1413.2,636.0 L1415.7,637.4 L1418.5,638.5 L1421.2,639.8 L1424.2,640.9 L1426.5,640.9 L1428.2,639.1 L1429.3,636.3 L1429.7,633.7 L1429.2,631.9 L1428.1,630.4 L1426.7,629.0 L1425.4,627.3 L1423.9,625.8 L1422.3,625.2 L1420.9,626.0 L1419.5,627.6 L1417.9,629.3 L1415.5,631.0 L1413.1,632.8 L1412.0,634.5Z" fill="#c9ced6"/>
<path d="M1425.6,795.2 L1428.4,794.4 L1430.4,793.0 L1431.0,790.9 L1430.8,788.2 L1430.6,785.6 L1430.6,783.2 L1430.4,781.0 L1429.7,779.3 L1428.1,778.6 L1425.9,778.4 L1423.9,778.8 L1422.1,779.8 L1420.5,781.4 L1419.6,783.1 L1419.6,784.7 L1420.3,786.5 L1421.0,788.4 L1421.6,790.8 L1422.2,793.4 L1423.4,795.1Z" fill="#c9ced6"/>
<path d="M1649.5,959.9 L1648.1,958.9 L1646.8,957.9 L1646.1,956.7 L1645.5,955.5 L1644.8,954.9 L1643.9,955.4 L1642.9,956.4 L1642.1,957.6 L1641.5,958.8 L1641.0,960.1 L1640.9,961.2 L1641.6,961.7 L1642.7,962.0 L1643.8,962.4 L1644.9,963.4 L1646.0,964.7 L1647.1,965.1 L1648.4,964.2 L1649.6,962.5 L1650.2,960.9Z" fill="#c9ced6"/>
<path d="M1697.4,723.9 L1697.9,721.2 L1697.5,718.7 L1695.7,716.9 L1693.1,715.3 L1690.5,714.2 L1688.2,713.7 L1686.0,713.7 L1684.4,714.2 L1683.9,715.5 L1684.1,717.2 L1684.1,719.2 L1682.9,721.5 L1681.4,724.1 L1681.2,726.0 L1683.1,726.7 L1686.4,726.8 L1689.4,726.8 L1692.0,726.9 L1694.4,726.7 L1696.3,725.9Z" fill="#a0a7b3"/>
<path d="M1716.7,713.6 L1719.6,713.8 L1722.0,713.0 L1723.4,710.5 L1724.4,707.0 L1725.2,703.8 L1726.0,701.4 L1726.5,699.4 L1726.5,697.5 L1725.7,695.4 L1724.4,693.4 L1722.9,692.7 L1721.0,694.0 L1718.9,696.5 L1717.2,699.0 L1716.3,700.8 L1715.9,702.6 L1715.5,704.7 L1714.9,707.4 L1714.4,710.4 L1714.7,712.6Z" fill="#adb3be"/>
<path d="M1521.1,803.7 L1523.6,802.8 L1525.8,801.2 L1527.5,798.7 L1528.8,795.4 L1529.2,792.7 L1528.1,791.1 L1526.1,789.9 L1524.1,788.6 L1522.6,786.4 L1521.3,784.0 L1519.9,783.0 L1518.3,784.6 L1516.8,787.6 L1515.8,790.4 L1515.6,792.6 L1515.9,794.7 L1516.5,796.8 L1517.0,799.4 L1517.8,802.0 L1519.0,803.6Z" fill="#c9ced6"/>
<path d="M1615.4,1005.3 L1613.4,1002.1 L1610.9,999.8 L1608.1,999.2 L1604.8,999.4 L1601.5,999.8 L1598.1,999.9 L1594.6,1000.0 L1592.1,1001.1 L1591.0,1003.5 L1590.8,1006.8 L1591.4,1009.9 L1593.0,1012.8 L1595.4,1015.6 L1598.3,1017.4 L1601.9,1018.0 L1606.1,1017.7 L1609.7,1016.6 L1612.6,1014.5 L1615.0,1011.5 L1616.1,1008.5Z" fill="#c9ced6"/>
<path d="M1527.9,955.0 L1525.1,953.1 L1522.4,951.0 L1520.6,948.5 L1519.1,945.8 L1517.0,944.2 L1513.5,944.0 L1509.5,944.9 L1506.7,946.4 L1506.0,948.7 L1506.6,951.6 L1507.6,954.4 L1508.8,957.1 L1510.4,959.7 L1512.5,961.4 L1515.4,962.0 L1518.9,961.8 L1522.1,961.1 L1525.2,960.0 L1528.0,958.5 L1529.2,956.8Z" fill="#adb3be"/>
<path d="M1705.4,852.3 L1705.0,850.6 L1704.5,849.1 L1704.0,847.7 L1703.5,846.5 L1702.7,845.9 L1701.5,846.0 L1700.1,846.6 L1699.0,847.4 L1698.4,848.4 L1698.0,849.5 L1697.8,850.6 L1697.9,851.5 L1698.2,852.3 L1698.6,853.0 L1699.2,853.7 L1699.9,854.3 L1700.9,854.6 L1702.4,854.6 L1704.1,854.3 L1705.3,853.6Z" fill="#a0a7b3"/>
<path d="M1423.5,789.7 L1423.2,787.9 L1422.1,786.1 L1419.7,784.1 L1416.5,782.2 L1413.6,781.5 L1411.6,782.7 L1409.9,785.0 L1408.2,787.4 L1405.5,789.6 L1402.6,792.0 L1401.7,794.0 L1404.1,795.4 L1408.3,796.5 L1412.6,797.5 L1416.5,798.6 L1420.4,799.6 L1423.2,799.5 L1424.1,797.6 L1424.0,794.6 L1423.6,791.8Z" fill="#b3bac5"/>
<path d="M1480.6,903.8 L1481.3,901.8 L1481.4,900.1 L1480.7,899.0 L1479.4,898.2 L1478.1,897.5 L1476.7,896.7 L1475.2,895.9 L1474.1,895.9 L1473.4,897.0 L1473.1,898.9 L1472.6,900.6 L1471.7,902.2 L1470.6,903.7 L1470.3,904.9 L1471.0,905.9 L1472.5,906.6 L1474.2,906.9 L1476.0,906.8 L1477.9,906.3 L1479.5,905.4Z" fill="#adb3be"/>
<path d="M1590.3,1021.4 L1593.1,1019.8 L1595.9,1018.0 L1598.7,1016.5 L1601.4,1014.8 L1603.0,1012.7 L1603.2,1009.4 L1602.4,1005.7 L1600.9,1002.8 L1598.2,1001.2 L1594.7,1000.5 L1591.9,1000.9 L1590.3,1002.8 L1589.4,1005.9 L1588.7,1008.6 L1588.0,1010.2 L1587.5,1011.4 L1587.2,1013.0 L1587.1,1016.0 L1587.3,1019.5 L1588.2,1021.6Z" fill="#adb3be"/>
<path d="M1404.7,797.0 L1407.3,795.6 L1409.8,794.2 L1412.2,793.4 L1414.6,792.8 L1416.3,791.6 L1417.0,789.7 L1417.0,787.2 L1416.7,785.2 L1415.9,783.6 L1414.8,782.4 L1413.6,782.0 L1412.0,783.1 L1410.2,785.0 L1408.7,786.7 L1407.9,787.8 L1407.3,788.8 L1406.6,790.2 L1405.2,792.7 L1403.7,795.6 L1403.3,797.3Z" fill="#a0a7b3"/>
<path d="M1519.8,960.1 L1521.4,958.0 L1523.2,955.5 L1526.5,952.7 L1530.0,949.7 L1531.6,946.7 L1529.9,943.7 L1526.1,940.8 L1522.5,939.0 L1519.4,938.7 L1516.4,939.5 L1513.9,940.8 L1512.2,942.7 L1511.0,945.2 L1509.8,948.2 L1508.2,952.4 L1506.6,957.2 L1506.6,960.6 L1509.4,962.0 L1513.9,962.1 L1517.7,961.5Z" fill="#b3bac5"/>
<path d="M1656.7,562.4 L1659.7,561.6 L1662.6,560.4 L1665.3,559.1 L1667.9,557.4 L1669.8,555.4 L1670.7,553.1 L1666.4,549.6 L1662.0,546.5 L1660.8,545.8 L1658.9,546.8 L1657.1,548.7 L1655.6,551.3 L1654.6,553.9 L1654.0,557.0 L1653.8,560.1 L1654.6,562.1Z" fill="#adb3be"/>
<path d="M1753.0,736.3 L1754.5,735.6 L1756.3,734.8 L1758.8,734.3 L1760.8,733.9 L1759.7,728.3 L1759.2,726.0 L1758.9,725.5 L1757.8,724.3 L1756.3,723.6 L1754.2,723.5 L1751.8,723.9 L1749.9,725.0 L1748.9,727.0 L1748.4,729.7 L1748.4,732.0 L1749.0,733.9 L1750.2,735.5 L1751.6,736.4Z" fill="#adb3be"/>
<path d="M1690.1,585.9 L1691.1,586.7 L1692.0,587.0 L1693.1,586.5 L1694.2,585.4 L1695.0,584.3 L1695.4,582.9 L1695.5,581.4 L1695.1,580.1 L1694.2,579.4 L1692.9,579.0 L1691.6,578.8 L1690.5,578.8 L1689.4,578.9 L1688.1,579.3 L1686.3,580.4 L1684.4,581.7 L1683.5,582.9 L1684.7,583.8 L1686.9,584.5 L1688.9,585.1Z" fill="#a0a7b3"/>
<path d="M1397.5,748.0 L1397.6,743.7 L1397.3,739.5 L1396.8,736.5 L1396.1,733.6 L1394.6,730.7 L1392.0,726.9 L1388.7,723.0 L1385.9,721.2 L1384.1,723.3 L1382.9,727.7 L1382.1,731.6 L1381.8,734.1 L1382.0,736.3 L1382.6,738.5 L1383.5,740.7 L1384.7,743.0 L1386.6,745.1 L1389.8,747.6 L1393.6,750.0 L1396.4,750.6Z" fill="#adb3be"/>
<path d="M1693.0,987.8 L1692.9,986.4 L1692.5,985.2 L1691.8,984.3 L1690.7,983.8 L1689.7,983.5 L1688.8,983.5 L1687.9,983.7 L1687.0,984.2 L1685.7,984.8 L1684.4,985.5 L1683.7,986.4 L1683.9,987.4 L1684.8,988.6 L1685.8,989.7 L1686.8,990.8 L1688.0,991.8 L1689.2,992.2 L1690.5,991.6 L1691.8,990.5 L1692.7,989.2Z" fill="#a0a7b3"/>
<path d="M1589.7,658.9 L1589.3,657.1 L1588.7,654.9 L1588.2,651.8 L1587.5,648.3 L1586.0,645.9 L1582.6,645.0 L1578.3,645.1 L1575.3,646.2 L1574.4,648.7 L1574.6,652.2 L1575.3,655.3 L1575.9,657.5 L1577.0,659.3 L1578.4,660.8 L1580.2,662.2 L1582.3,663.3 L1584.4,663.7 L1586.3,663.2 L1588.2,662.0 L1589.4,660.5Z" fill="#a0a7b3"/>
<path d="M1627.6,661.5 L1628.0,660.3 L1628.0,659.4 L1627.3,659.0 L1626.0,659.0 L1624.7,658.9 L1623.6,658.6 L1622.4,658.3 L1621.6,658.4 L1621.0,659.2 L1620.8,660.5 L1620.7,661.7 L1620.8,663.0 L1621.0,664.3 L1621.6,665.2 L1622.8,665.7 L1624.2,665.7 L1625.4,665.5 L1626.1,664.8 L1626.6,663.7 L1627.0,662.6Z" fill="#adb3be"/>
<path d="M1592.5,1021.5 L1587.1,1019.8 L1582.3,1018.0 L1579.4,1015.4 L1577.1,1012.6 L1574.4,1011.1 L1570.3,1011.7 L1565.7,1013.6 L1563.2,1015.8 L1564.0,1018.1 L1566.8,1020.8 L1569.4,1023.2 L1570.9,1025.2 L1572.1,1026.9 L1574.0,1028.2 L1577.1,1029.0 L1580.8,1029.3 L1584.5,1028.9 L1589.0,1027.4 L1593.5,1025.3 L1595.3,1023.2Z" fill="#b3bac5"/>
<path d="M1629.1,558.1 L1630.0,558.1 L1630.9,558.0 L1631.8,557.6 L1632.6,557.0 L1633.0,556.3 L1633.0,555.6 L1632.6,554.8 L1632.2,554.2 L1631.8,553.6 L1631.4,553.2 L1631.0,553.0 L1630.5,553.0 L1630.0,553.3 L1629.3,553.7 L1628.1,554.2 L1626.7,554.7 L1625.9,555.4 L1626.3,556.2 L1627.2,557.2 L1628.2,557.8Z" fill="#adb3be"/>
<path d="M1586.6,958.9 L1588.0,954.4 L1588.8,950.1 L1589.0,946.5 L1588.6,943.1 L1587.8,940.3 L1586.7,938.8 L1585.2,937.9 L1583.4,936.5 L1580.7,933.0 L1577.6,929.0 L1575.6,927.6 L1575.3,931.0 L1576.1,936.9 L1576.9,942.1 L1577.7,944.7 L1578.6,946.5 L1579.7,948.9 L1581.4,953.4 L1583.3,958.4 L1585.1,960.9Z" fill="#b3bac5"/>
<path d="M1718.3,969.7 L1720.1,971.2 L1721.9,971.6 L1723.7,970.0 L1725.5,967.3 L1726.5,964.5 L1726.5,961.9 L1725.8,959.1 L1724.6,956.9 L1722.8,955.5 L1720.6,954.6 L1718.3,954.4 L1716.0,955.4 L1713.6,957.1 L1712.0,959.1 L1711.6,961.5 L1711.9,964.2 L1712.6,966.3 L1713.6,967.3 L1715.0,967.7 L1716.6,968.3Z" fill="#b3bac5"/>
<path d="M1448.5,758.3 L1451.3,756.6 L1452.5,755.1 L1450.8,753.8 L1447.6,752.7 L1444.5,751.8 L1442.2,751.0 L1440.2,750.4 L1438.5,750.5 L1437.5,751.7 L1436.8,753.6 L1436.3,755.7 L1435.8,757.9 L1435.4,760.2 L1435.9,762.2 L1437.8,764.1 L1440.6,765.6 L1442.9,766.1 L1444.1,764.8 L1444.9,762.4 L1446.1,760.1Z" fill="#a0a7b3"/>
<path d="M1404.2,965.5 L1406.7,965.1 L1409.2,963.7 L1411.7,961.1 L1414.1,957.5 L1415.5,953.5 L1415.8,948.7 L1415.2,943.6 L1413.7,939.9 L1410.9,938.1 L1407.2,937.6 L1403.6,938.4 L1400.1,940.7 L1396.7,944.3 L1394.7,948.0 L1394.8,950.2 L1395.6,951.7 L1398.9,958.2 L1402.5,964.4 L1403.1,965.3Z" fill="#adb3be"/>
<path d="M1563.7,892.3 L1562.6,891.3 L1561.5,890.1 L1560.8,888.5 L1560.2,886.8 L1559.4,885.8 L1558.3,886.0 L1557.0,886.9 L1555.6,887.8 L1553.8,888.3 L1551.9,888.9 L1551.1,889.7 L1552.0,891.0 L1553.9,892.5 L1555.8,893.8 L1557.6,894.6 L1559.5,895.1 L1561.1,895.3 L1562.5,894.9 L1563.6,894.1 L1564.1,893.2Z" fill="#b3bac5"/>
<path d="M1585.8,874.0 L1586.7,873.2 L1587.2,872.3 L1587.2,871.0 L1586.8,869.7 L1586.0,868.6 L1584.7,867.7 L1583.0,867.1 L1581.5,867.2 L1580.4,868.2 L1579.4,869.8 L1578.9,871.4 L1578.9,872.5 L1579.3,873.5 L1579.8,874.6 L1580.2,876.2 L1580.8,878.0 L1581.5,878.8 L1582.5,878.1 L1583.7,876.5 L1584.8,875.0Z" fill="#adb3be"/>
<path d="M1485.1,608.2 L1483.7,607.1 L1482.3,606.2 L1481.2,605.3 L1480.3,604.6 L1479.3,604.5 L1478.4,605.0 L1477.6,606.1 L1476.9,607.2 L1476.6,608.2 L1476.4,609.3 L1476.5,610.7 L1476.6,612.9 L1476.9,615.4 L1477.7,617.1 L1479.6,617.5 L1482.0,617.1 L1483.9,616.1 L1485.1,614.3 L1485.8,611.8 L1485.9,609.6Z" fill="#c9ced6"/>
<path d="M1664.4,757.4 L1666.2,757.1 L1667.7,756.4 L1669.0,755.1 L1670.0,753.3 L1670.5,751.6 L1670.2,750.1 L1669.3,748.8 L1668.4,747.8 L1667.4,747.5 L1666.4,747.6 L1665.4,747.8 L1664.6,748.0 L1663.8,748.4 L1663.0,749.1 L1661.7,750.3 L1660.3,751.8 L1659.6,753.3 L1660.1,754.8 L1661.4,756.2 L1662.9,757.1Z" fill="#adb3be"/>
<path d="M1697.1,780.1 L1699.5,782.4 L1702.5,783.3 L1707.1,781.9 L1712.3,779.2 L1716.0,776.2 L1716.7,773.4 L1715.9,770.4 L1715.5,767.1 L1716.9,763.0 L1718.7,758.6 L1718.5,755.6 L1714.8,754.9 L1709.1,755.5 L1703.9,757.3 L1699.9,760.5 L1696.4,764.8 L1694.2,768.8 L1693.5,772.1 L1694.2,774.9 L1695.4,777.5Z" fill="#adb3be"/>
<path d="M1501.6,776.4 L1503.0,775.3 L1503.9,774.2 L1504.0,773.1 L1503.5,771.9 L1502.9,770.9 L1502.2,770.1 L1501.4,769.6 L1500.5,769.2 L1499.4,769.0 L1498.1,769.1 L1497.2,769.4 L1496.8,770.2 L1496.6,771.1 L1496.6,772.1 L1496.5,773.0 L1496.5,773.8 L1496.8,774.6 L1497.7,775.6 L1498.9,776.5 L1500.2,776.9Z" fill="#c9ced6"/>
<path d="M1431.4,781.1 L1432.9,780.3 L1433.7,779.3 L1433.6,778.2 L1432.9,777.0 L1432.1,776.2 L1431.2,775.8 L1430.2,775.8 L1429.2,775.9 L1428.4,775.9 L1427.7,776.0 L1426.9,776.3 L1425.8,776.9 L1424.6,777.7 L1423.9,778.6 L1424.1,779.6 L1424.8,780.7 L1425.8,781.5 L1427.0,781.8 L1428.4,781.9 L1429.9,781.7Z" fill="#a0a7b3"/>
<path d="M1544.8,811.9 L1544.8,810.4 L1544.3,809.2 L1543.1,808.3 L1541.5,807.8 L1539.9,807.6 L1538.1,807.5 L1536.4,807.8 L1535.1,808.5 L1534.5,809.8 L1534.4,811.5 L1534.7,813.1 L1535.4,814.3 L1536.6,815.3 L1537.8,816.0 L1539.3,816.6 L1540.8,816.9 L1542.2,816.7 L1543.2,815.9 L1544.0,814.7 L1544.6,813.4Z" fill="#c9ced6"/>
<path d="M1526.3,887.5 L1529.1,886.1 L1531.8,884.9 L1534.5,884.4 L1537.2,884.1 L1538.8,883.4 L1538.6,881.8 L1537.3,879.8 L1536.1,878.2 L1535.6,877.3 L1535.2,876.7 L1534.4,876.1 L1533.0,875.1 L1531.2,874.0 L1529.4,874.0 L1527.6,875.6 L1525.9,878.1 L1524.7,880.7 L1524.0,883.5 L1523.8,886.2 L1524.4,887.8Z" fill="#c9ced6"/>
<path d="M1483.9,842.2 L1485.7,840.6 L1486.5,839.1 L1485.8,837.9 L1484.1,836.8 L1482.3,835.7 L1480.7,834.4 L1479.0,833.0 L1477.6,832.7 L1476.9,834.1 L1476.6,836.4 L1476.0,838.7 L1474.8,840.5 L1473.4,842.2 L1472.9,843.3 L1474.1,843.8 L1476.2,843.9 L1478.1,843.8 L1479.5,843.9 L1480.8,843.8 L1482.1,843.3Z" fill="#adb3be"/>
<path d="M1419.5,929.4 L1423.0,929.2 L1426.2,929.0 L1429.0,929.5 L1431.6,930.0 L1434.0,929.6 L1436.1,927.5 L1437.9,924.5 L1438.6,921.7 L1437.7,919.2 L1435.5,916.9 L1433.2,915.3 L1430.8,914.9 L1428.2,915.1 L1425.6,915.8 L1423.0,916.7 L1420.5,917.9 L1418.6,919.7 L1417.3,922.6 L1416.7,926.1 L1417.3,928.6Z" fill="#a0a7b3"/>
<path d="M1518.1,886.3 L1520.0,886.9 L1521.8,886.8 L1524.0,885.4 L1526.1,883.3 L1527.2,881.1 L1526.6,878.4 L1524.9,875.5 L1522.9,873.6 L1520.7,873.6 L1518.1,874.7 L1515.4,875.6 L1512.5,875.7 L1509.4,875.6 L1507.1,876.5 L1505.6,879.4 L1504.8,883.3 L1505.3,886.1 L1508.0,886.7 L1512.1,886.2 L1515.7,885.9Z" fill="#a0a7b3"/>
<path d="M1488.3,579.5 L1490.4,580.0 L1492.6,580.2 L1495.0,580.1 L1497.5,579.8 L1499.4,579.0 L1500.3,577.6 L1500.6,575.8 L1500.7,574.3 L1500.5,573.1 L1500.1,572.2 L1499.3,571.6 L1498.1,571.5 L1496.7,571.8 L1495.2,572.1 L1494.0,572.6 L1492.8,573.2 L1491.6,574.1 L1489.8,575.5 L1488.0,577.2 L1487.3,578.6Z" fill="#a0a7b3"/>
<path d="M1724.2,698.7 L1724.8,697.9 L1725.0,697.2 L1724.3,696.7 L1723.2,696.3 L1722.0,695.8 L1720.8,694.9 L1719.5,693.9 L1718.4,693.4 L1717.5,694.1 L1716.9,695.5 L1716.7,696.7 L1717.4,697.6 L1718.5,698.5 L1719.6,699.2 L1720.4,700.1 L1721.2,700.8 L1721.9,701.2 L1722.5,700.9 L1723.0,700.2 L1723.6,699.4Z" fill="#a0a7b3"/>
<path d="M1431.9,671.3 L1433.2,673.0 L1434.9,674.2 L1437.1,675.1 L1439.6,675.6 L1441.4,675.2 L1442.3,673.6 L1442.5,671.1 L1442.7,668.2 L1443.4,664.9 L1444.0,661.2 L1443.5,658.4 L1441.0,656.8 L1437.4,656.1 L1434.4,656.4 L1432.6,658.0 L1431.5,660.7 L1430.7,663.3 L1430.4,665.5 L1430.4,667.5 L1430.9,669.4Z" fill="#adb3be"/>
<path d="M1553.2,919.9 L1555.0,918.7 L1555.7,917.5 L1554.8,916.5 L1552.9,915.7 L1551.0,914.7 L1549.3,913.2 L1547.6,911.7 L1546.0,911.1 L1544.1,912.1 L1542.4,914.2 L1541.5,916.2 L1542.0,917.8 L1543.5,919.4 L1544.9,921.0 L1545.9,922.9 L1546.9,924.8 L1548.0,925.6 L1549.1,924.8 L1550.3,923.0 L1551.5,921.2Z" fill="#b3bac5"/>
<path d="M1577.6,794.0 L1577.4,792.9 L1576.9,791.8 L1576.0,790.5 L1574.9,789.2 L1573.5,788.4 L1571.8,788.4 L1569.9,789.0 L1568.3,790.0 L1567.3,791.5 L1566.7,793.4 L1566.7,795.1 L1567.8,796.2 L1569.5,797.1 L1571.3,797.9 L1573.1,799.0 L1575.0,800.0 L1576.4,800.3 L1577.2,799.1 L1577.5,797.1 L1577.6,795.3Z" fill="#b3bac5"/>
<path d="M1553.2,975.0 L1558.6,975.8 L1564.0,976.5 L1568.7,977.4 L1573.5,978.1 L1577.6,977.7 L1580.9,975.5 L1583.6,972.1 L1585.3,968.9 L1585.8,966.2 L1585.4,963.6 L1583.8,961.4 L1580.8,959.2 L1576.8,957.3 L1572.6,956.8 L1568.7,958.4 L1564.8,961.5 L1561.0,964.6 L1556.5,967.7 L1552.2,971.0 L1550.5,973.5Z" fill="#c9ced6"/>
<path d="M1490.0,599.6 L1493.5,596.3 L1496.7,592.9 L1499.1,589.9 L1501.0,586.8 L1502.7,582.9 L1504.6,577.4 L1506.3,571.3 L1506.3,566.8 L1503.9,565.1 L1499.9,565.0 L1496.0,566.1 L1492.3,568.2 L1488.6,571.4 L1486.0,575.2 L1484.8,579.5 L1484.5,584.4 L1484.7,589.0 L1485.0,593.8 L1485.7,598.3 L1487.2,600.7Z" fill="#c9ced6"/>
<path d="M1756.0,783.7 L1758.8,785.1 L1761.8,786.0 L1764.9,786.4 L1767.4,786.4 L1767.1,781.9 L1766.5,773.5 L1766.3,771.3 L1764.4,771.7 L1762.3,772.3 L1760.3,773.3 L1758.5,774.7 L1756.6,776.9 L1755.0,779.6 L1754.5,781.9Z" fill="#adb3be"/>
<path d="M1369.2,792.8 L1372.3,792.7 L1375.3,793.6 L1378.5,794.8 L1381.1,794.7 L1383.2,792.5 L1384.7,789.1 L1385.4,785.9 L1385.2,782.9 L1384.1,780.1 L1382.3,778.1 L1379.1,777.4 L1375.2,777.5 L1371.9,778.5 L1369.9,780.5 L1368.7,783.2 L1368.3,789.4 L1368.2,793.0Z" fill="#adb3be"/>
<path d="M1652.4,864.4 L1650.6,862.8 L1649.0,861.5 L1648.1,860.2 L1647.4,859.1 L1646.4,858.5 L1644.6,858.2 L1642.5,858.4 L1641.1,859.1 L1641.0,860.7 L1641.4,862.7 L1641.9,864.8 L1641.9,866.7 L1641.9,868.6 L1642.6,870.1 L1644.3,871.5 L1646.6,872.6 L1648.7,872.6 L1650.7,871.1 L1652.4,868.5 L1653.2,866.2Z" fill="#a0a7b3"/>
<path d="M1629.5,644.4 L1631.1,641.3 L1632.7,638.5 L1634.2,636.9 L1635.5,635.5 L1636.4,633.9 L1636.6,631.4 L1636.3,628.6 L1635.4,626.4 L1633.8,625.1 L1631.6,624.3 L1629.6,624.5 L1627.8,625.9 L1626.1,628.3 L1624.7,630.9 L1623.7,633.8 L1623.1,636.9 L1623.1,639.8 L1624.2,642.6 L1626.0,645.1 L1627.8,646.0Z" fill="#a0a7b3"/>
<path d="M1467.1,665.3 L1466.6,664.3 L1466.0,663.3 L1465.1,662.3 L1463.9,661.4 L1462.8,660.8 L1461.7,660.9 L1460.6,661.3 L1459.7,661.9 L1458.9,662.4 L1458.2,663.1 L1457.9,663.9 L1458.1,665.1 L1458.7,666.5 L1459.7,667.6 L1461.3,668.3 L1463.2,668.7 L1464.9,668.7 L1466.0,668.2 L1466.7,667.2 L1467.1,666.2Z" fill="#a0a7b3"/>
<path d="M1466.0,607.2 L1469.2,607.9 L1472.2,608.1 L1474.8,607.7 L1477.1,606.8 L1478.8,605.5 L1479.6,603.8 L1479.8,601.7 L1479.8,599.6 L1479.7,597.4 L1479.4,595.2 L1478.5,593.7 L1476.5,593.2 L1474.0,593.3 L1471.8,594.0 L1470.5,595.1 L1469.4,596.6 L1468.3,598.5 L1466.5,601.0 L1464.7,603.7 L1464.2,605.9Z" fill="#a0a7b3"/>
<path d="M1465.8,873.0 L1465.5,875.9 L1466.1,877.4 L1468.4,876.6 L1471.7,874.3 L1475.2,872.2 L1479.8,870.5 L1484.7,868.9 L1487.2,867.4 L1485.5,866.0 L1481.4,864.8 L1477.6,863.5 L1475.6,862.1 L1474.0,860.6 L1471.8,860.0 L1467.5,860.6 L1462.6,861.9 L1459.7,863.6 L1460.5,865.6 L1463.3,867.9 L1465.5,870.2Z" fill="#c9ced6"/>
<path d="M1504.4,921.1 L1503.8,919.3 L1502.7,917.8 L1501.1,916.8 L1499.2,916.1 L1497.2,915.6 L1495.3,915.3 L1493.5,915.4 L1491.9,915.8 L1490.7,916.8 L1489.9,918.2 L1489.8,919.6 L1490.6,921.1 L1492.3,922.6 L1494.0,923.7 L1495.8,924.3 L1497.7,924.4 L1499.6,924.3 L1501.4,924.0 L1503.3,923.5 L1504.4,922.6Z" fill="#b3bac5"/>
<path d="M1627.2,737.8 L1630.1,739.3 L1632.6,739.4 L1634.2,737.4 L1635.4,734.1 L1636.9,730.7 L1639.8,727.4 L1643.1,724.2 L1644.4,721.9 L1642.0,721.2 L1637.6,721.6 L1633.7,721.9 L1631.4,721.7 L1629.7,721.6 L1627.7,722.1 L1624.7,723.6 L1621.4,725.8 L1619.6,728.2 L1620.2,730.7 L1622.2,733.5 L1624.6,735.8Z" fill="#a0a7b3"/>
<path d="M1529.0,772.5 L1530.1,771.1 L1530.6,769.8 L1529.9,768.7 L1528.6,767.7 L1527.3,767.0 L1526.4,766.6 L1525.5,766.5 L1524.4,766.5 L1522.4,766.4 L1520.2,766.3 L1518.8,766.8 L1519.1,767.9 L1520.2,769.5 L1521.2,771.3 L1521.5,773.3 L1521.7,775.4 L1522.3,776.6 L1523.8,776.4 L1525.9,775.2 L1527.6,773.8Z" fill="#adb3be"/>
<path d="M1724.8,940.3 L1725.6,942.6 L1726.8,943.5 L1728.6,942.1 L1730.7,939.3 L1732.6,936.6 L1734.6,934.2 L1736.4,931.7 L1737.0,930.0 L1735.6,929.6 L1733.1,929.8 L1730.8,929.9 L1729.0,929.3 L1727.4,928.5 L1725.8,928.6 L1723.9,930.3 L1722.1,932.8 L1721.2,934.9 L1721.6,936.2 L1722.8,937.1 L1724.0,938.3Z" fill="#adb3be"/>
<path d="M1683.1,863.8 L1683.7,865.8 L1685.0,867.6 L1687.6,869.4 L1690.9,870.9 L1693.3,871.0 L1694.4,868.7 L1694.6,865.0 L1694.4,861.6 L1693.8,859.3 L1692.7,857.4 L1691.3,855.6 L1689.5,853.4 L1687.4,851.3 L1685.6,850.5 L1684.3,851.9 L1683.3,854.7 L1682.6,857.3 L1682.4,858.9 L1682.4,860.3 L1682.8,861.9Z" fill="#a0a7b3"/>
<path d="M1732.0,655.8 L1733.5,654.9 L1734.5,653.2 L1734.9,650.5 L1734.9,647.1 L1734.2,643.6 L1732.4,639.8 L1729.9,635.9 L1727.2,633.4 L1724.3,633.0 L1721.2,633.9 L1719.0,636.0 L1718.2,639.6 L1718.3,644.3 L1719.2,648.4 L1720.9,651.4 L1723.4,653.8 L1725.7,655.4 L1727.4,656.3 L1729.0,656.5 L1730.4,656.3Z" fill="#a0a7b3"/>
<path d="M1675.0,949.6 L1675.5,948.6 L1675.4,947.8 L1674.3,947.4 L1672.6,947.3 L1670.9,947.2 L1669.6,946.9 L1668.3,946.7 L1667.2,946.8 L1665.8,947.3 L1664.5,948.2 L1664.1,949.1 L1665.4,949.9 L1667.5,950.6 L1669.5,951.2 L1670.8,951.6 L1671.9,951.9 L1672.8,951.9 L1673.5,951.6 L1674.0,951.1 L1674.4,950.4Z" fill="#adb3be"/>
<path d="M1424.8,771.0 L1426.3,770.7 L1427.7,770.2 L1429.1,769.3 L1430.6,768.1 L1431.2,766.9 L1430.6,765.9 L1429.1,764.8 L1427.6,763.7 L1426.5,762.2 L1425.3,760.7 L1424.0,759.9 L1422.2,760.4 L1420.2,761.6 L1419.1,763.0 L1419.7,764.4 L1421.2,766.0 L1422.5,767.4 L1423.0,768.8 L1423.2,770.0 L1423.7,770.8Z" fill="#b3bac5"/>
<path d="M1518.4,680.1 L1521.1,681.0 L1524.0,681.5 L1527.4,682.0 L1531.0,682.2 L1533.6,681.5 L1534.5,679.5 L1534.5,676.7 L1534.3,674.1 L1534.8,672.0 L1535.3,670.1 L1534.8,668.6 L1532.9,667.1 L1530.2,665.9 L1527.3,665.7 L1524.3,666.9 L1521.1,668.9 L1518.7,671.2 L1517.2,673.8 L1516.5,676.5 L1516.7,678.7Z" fill="#a0a7b3"/>
<path d="M1612.1,757.1 L1610.7,756.1 L1609.3,755.0 L1608.1,753.4 L1606.8,751.8 L1605.4,751.0 L1603.9,751.3 L1602.2,752.3 L1600.6,753.6 L1598.7,754.9 L1596.7,756.4 L1596.1,757.9 L1597.5,759.4 L1600.1,760.9 L1602.9,762.0 L1605.6,762.7 L1608.3,763.0 L1610.4,762.8 L1611.8,761.6 L1612.6,759.9 L1612.8,758.3Z" fill="#c9ced6"/>
<path d="M1491.0,611.3 L1491.7,609.8 L1491.8,608.1 L1490.9,605.6 L1489.3,602.9 L1487.6,601.4 L1485.8,602.1 L1483.8,604.1 L1482.1,606.0 L1480.5,607.2 L1479.2,608.4 L1478.7,609.6 L1479.3,611.2 L1480.6,612.8 L1482.2,614.1 L1483.8,615.0 L1485.6,615.5 L1487.2,615.5 L1488.4,614.9 L1489.3,613.8 L1490.1,612.5Z" fill="#a0a7b3"/>
<path d="M1586.7,875.4 L1586.3,874.2 L1585.6,873.0 L1584.8,871.6 L1583.7,870.3 L1582.4,869.5 L1580.6,869.7 L1578.6,870.6 L1577.2,871.8 L1576.5,873.7 L1576.4,875.9 L1576.7,878.0 L1577.5,879.7 L1578.6,881.3 L1580.1,882.3 L1581.9,882.9 L1584.0,883.0 L1585.6,882.4 L1586.5,880.9 L1586.8,878.7 L1586.8,876.8Z" fill="#c9ced6"/>
<path d="M1659.7,842.2 L1661.7,837.1 L1663.3,832.0 L1664.3,828.0 L1664.9,824.2 L1664.8,820.7 L1663.7,817.6 L1661.8,814.9 L1659.7,813.0 L1657.7,811.9 L1655.6,811.6 L1653.3,812.3 L1650.4,814.2 L1647.4,817.1 L1646.0,820.2 L1647.5,823.0 L1650.7,825.8 L1653.6,829.4 L1655.2,835.0 L1656.5,841.2 L1657.9,844.4Z" fill="#b3bac5"/>
<path d="M1712.6,881.1 L1713.4,877.7 L1713.1,874.4 L1711.3,871.6 L1708.4,869.0 L1705.7,866.4 L1703.7,863.7 L1701.9,861.2 L1700.4,859.8 L1699.1,860.3 L1698.1,862.0 L1697.2,864.0 L1695.9,866.0 L1694.8,868.4 L1694.7,871.1 L1696.5,874.6 L1699.3,878.4 L1702.3,881.3 L1705.4,883.0 L1708.6,883.8 L1711.1,883.3Z" fill="#adb3be"/>
<path d="M1539.2,781.4 L1541.7,783.4 L1543.6,784.1 L1544.2,782.7 L1544.2,780.0 L1544.3,777.4 L1545.0,774.9 L1545.8,772.5 L1545.5,770.5 L1543.3,768.9 L1540.0,767.7 L1537.3,767.5 L1535.8,768.9 L1534.9,771.3 L1534.1,773.4 L1533.1,775.0 L1532.2,776.4 L1532.1,777.6 L1533.1,778.4 L1534.9,778.9 L1536.9,779.7Z" fill="#a0a7b3"/>
<path d="M1376.2,730.6 L1377.4,730.2 L1378.6,729.4 L1379.8,728.2 L1380.8,726.5 L1381.5,724.6 L1381.7,722.2 L1381.6,719.5 L1380.9,717.6 L1379.3,716.8 L1377.2,716.8 L1376.4,717.1 L1376.3,717.6 L1374.6,728.2 L1374.2,730.7 L1374.7,730.7Z" fill="#b3bac5"/>
<path d="M1670.6,756.6 L1672.7,754.0 L1674.3,751.3 L1675.1,749.1 L1675.4,746.7 L1675.5,744.4 L1675.4,741.9 L1675.0,739.4 L1674.1,737.5 L1672.6,736.4 L1670.5,735.9 L1668.1,736.0 L1664.6,736.5 L1660.8,737.7 L1658.3,739.8 L1657.8,743.9 L1658.6,749.1 L1660.1,753.3 L1662.5,755.9 L1665.5,757.5 L1668.3,757.9Z" fill="#a0a7b3"/>
<path d="M1428.1,779.1 L1429.4,777.7 L1430.1,776.1 L1429.9,774.2 L1429.0,772.0 L1427.5,770.1 L1425.3,768.0 L1422.5,766.2 L1420.2,765.7 L1419.0,767.4 L1418.3,770.4 L1417.4,773.4 L1415.6,776.1 L1413.7,778.9 L1413.1,781.0 L1415.2,782.3 L1418.7,783.0 L1421.7,783.2 L1423.7,782.7 L1425.2,781.6 L1426.6,780.3Z" fill="#adb3be"/>
<path d="M1543.7,686.7 L1542.1,685.5 L1540.4,684.0 L1539.3,681.6 L1538.3,678.9 L1537.0,677.4 L1534.8,677.9 L1532.4,679.6 L1530.8,681.5 L1530.8,683.1 L1531.6,684.9 L1532.4,686.7 L1532.8,688.4 L1533.3,690.1 L1534.2,691.3 L1536.0,691.9 L1538.4,692.0 L1540.4,691.6 L1542.2,690.7 L1543.8,689.3 L1544.5,687.8Z" fill="#c9ced6"/>
<path d="M1604.6,573.9 L1608.4,572.2 L1610.1,570.3 L1608.1,568.3 L1604.1,566.3 L1600.0,564.1 L1596.4,561.1 L1592.7,557.9 L1590.0,556.8 L1588.8,559.3 L1588.5,563.8 L1588.5,567.9 L1588.4,570.6 L1588.6,572.8 L1589.5,575.1 L1591.3,577.8 L1593.8,580.5 L1596.1,581.8 L1597.8,580.7 L1599.3,578.2 L1601.2,575.8Z" fill="#c9ced6"/>
<path d="M1752.5,899.0 L1752.7,897.1 L1753.1,895.1 L1754.3,893.3 L1755.6,891.4 L1756.1,889.9 L1754.8,888.8 L1752.6,887.9 L1750.7,887.7 L1749.5,888.4 L1748.6,889.7 L1747.8,890.9 L1747.0,891.9 L1746.3,892.9 L1746.1,893.9 L1746.6,894.7 L1747.5,895.5 L1748.6,896.4 L1749.8,897.9 L1751.1,899.4 L1752.1,900.0Z" fill="#c9ced6"/>
<path d="M1566.0,530.0 L1567.8,530.1 L1571.4,531.6 L1575.8,533.3 L1580.0,534.0 L1584.4,533.0 L1589.4,531.0 L1593.6,529.3 L1596.0,529.0 L1595.6,530.8 L1593.4,534.0 L1590.4,537.7 L1588.0,541.0 L1586.4,544.3 L1584.9,547.9 L1583.5,550.8 L1582.0,552.0 L1580.4,551.0 L1578.7,548.4 L1576.9,545.1 L1575.0,542.0 L1572.4,538.8 L1569.2,535.1 L1566.7,531.9Z" fill="#1e2231"/>
<path d="M1578.0,540.0 L1578.1,544.5 L1578.2,550.9 L1578.2,558.2 L1578.0,565.0 L1577.5,571.6 L1576.7,578.6 L1575.8,584.9 L1575.0,590.0 L1574.2,593.4 L1573.3,595.6 L1572.5,597.0 L1572.0,598.0" fill="none" stroke="#1e2231" stroke-width="3.5" stroke-linecap="round" stroke-linejoin="round"/>
<path d="M1573.0,645.0 L1572.6,651.4 L1572.1,660.5 L1571.5,670.6 L1571.0,680.0 L1570.5,688.3 L1570.0,696.4 L1569.5,704.4 L1569.0,712.0 L1568.5,719.9 L1567.9,728.0 L1567.4,735.1 L1567.0,740.0" fill="none" stroke="#1e2231" stroke-width="3.5" stroke-linecap="round" stroke-linejoin="round"/>
<path d="M1519.0,652.0 L1521.9,654.3 L1526.1,657.5 L1530.7,661.5 L1535.0,666.0 L1539.2,671.9 L1543.5,678.9 L1547.3,685.5 L1550.0,690.0" fill="none" stroke="#4a5163" stroke-width="3" stroke-linecap="round" stroke-linejoin="round"/>
<path d="M1583.0,689.0 L1583.6,695.7 L1584.5,705.5 L1585.4,715.3 L1586.0,722.0" fill="none" stroke="#1e2231" stroke-width="3.5" stroke-linecap="round" stroke-linejoin="round"/>
<circle cx="1551" cy="712" r="3.5" fill="#1e2231"/>
<circle cx="1567" cy="739" r="4" fill="#1e2231"/>
<path d="M1395.0,685.0 L1398.0,684.1 L1402.4,682.7 L1407.3,681.2 L1412.0,680.0 L1416.5,679.1 L1421.0,678.4 L1425.5,677.7 L1430.0,677.0 L1434.7,676.2 L1439.6,675.3 L1444.0,674.5 L1447.0,674.0" fill="none" stroke="#1e2231" stroke-width="4.5" stroke-linecap="round" stroke-linejoin="round"/>
<path d="M1440.0,718.0 L1440.1,716.1 L1440.1,713.2 L1440.4,710.3 L1441.0,708.0 L1442.1,706.5 L1443.6,705.3 L1445.3,704.5 L1447.0,704.0 L1448.8,703.9 L1450.9,704.2 L1452.7,704.7 L1454.0,705.0" fill="none" stroke="#1e2231" stroke-width="4" stroke-linecap="round" stroke-linejoin="round"/>
<path d="M1436.0,737.0 L1436.2,740.7 L1436.5,746.0 L1436.8,751.3 L1437.0,755.0" fill="none" stroke="#4a5163" stroke-width="3" stroke-linecap="round" stroke-linejoin="round"/>
<path d="M1386.0,672.0 L1387.8,671.1 L1390.5,672.6 L1393.5,675.3 L1396.0,678.0 L1398.1,680.5 L1400.0,683.5 L1401.4,686.7 L1402.0,690.0 L1401.4,693.8 L1399.9,698.1 L1397.9,701.9 L1396.0,704.0 L1394.0,704.4 L1391.8,703.5 L1389.6,701.4 L1388.0,698.0 L1386.8,692.2 L1385.9,684.2 L1385.5,676.7Z" fill="#1e2231"/>
<path d="M1408.0,741.0 L1411.1,744.0 L1415.4,748.4 L1420.4,753.3 L1425.0,758.0 L1429.4,762.5 L1433.9,767.2 L1438.2,771.8 L1442.0,776.0 L1445.2,779.9 L1448.1,783.6 L1450.4,786.8 L1452.0,789.0" fill="none" stroke="#1e2231" stroke-width="3" stroke-linecap="round" stroke-linejoin="round"/>
<path d="M1394.0,700.0 L1392.4,703.7 L1390.0,709.0 L1387.6,714.3 L1386.0,718.0" fill="none" stroke="#1e2231" stroke-width="3" stroke-linecap="round" stroke-linejoin="round"/>
<path d="M1657.0,655.0 L1659.2,657.4 L1662.4,660.9 L1666.1,664.7 L1670.0,668.0 L1674.0,670.7 L1678.3,673.1 L1683.0,675.3 L1688.0,677.0 L1693.5,678.2 L1699.5,678.9 L1705.7,679.5 L1712.0,680.0 L1719.0,680.6 L1726.5,681.2 L1733.3,681.7 L1738.0,682.0" fill="none" stroke="#1e2231" stroke-width="4" stroke-linecap="round" stroke-linejoin="round"/>
<path d="M1703.0,745.0 L1701.6,748.5 L1699.7,753.6 L1697.4,759.3 L1695.0,765.0 L1692.2,771.1 L1689.0,777.8 L1686.0,783.8 L1684.0,788.0" fill="none" stroke="#1e2231" stroke-width="4" stroke-linecap="round" stroke-linejoin="round"/>
<path d="M1700.0,703.0 L1703.2,704.2 L1708.0,706.0 L1712.8,707.8 L1716.0,709.0" fill="none" stroke="#1e2231" stroke-width="3" stroke-linecap="round" stroke-linejoin="round"/>
<path d="M1554.0,790.0 L1555.5,786.9 L1557.5,784.9 L1559.7,784.5 L1562.0,786.0 L1564.4,790.0 L1566.9,796.2 L1569.5,803.3 L1572.0,810.0 L1574.8,816.1 L1577.9,822.3 L1580.5,828.6 L1582.0,835.0 L1582.2,842.0 L1581.4,849.4 L1579.9,856.4 L1578.0,862.0 L1575.5,866.4 L1572.4,870.1 L1569.0,872.1 L1566.0,872.0 L1563.2,869.1 L1560.5,863.8 L1558.0,857.2 L1556.0,850.0 L1554.4,841.9 L1553.2,832.7 L1552.4,823.4 L1552.0,815.0 L1551.9,807.6 L1552.2,800.6 L1552.9,794.5Z" fill="#4a5163"/>
<path d="M1488.0,836.0 L1495.0,835.9 L1505.1,835.8 L1515.9,835.6 L1525.0,835.0 L1532.3,833.9 L1538.8,832.4 L1544.2,831.0 L1548.0,830.0" fill="none" stroke="#1e2231" stroke-width="3.5" stroke-linecap="round" stroke-linejoin="round"/>
<path d="M1580.0,836.0 L1583.3,836.8 L1588.1,837.9 L1593.4,839.1 L1598.0,840.0 L1602.1,840.5 L1606.1,840.8 L1609.6,840.9 L1612.0,841.0" fill="none" stroke="#1e2231" stroke-width="3.5" stroke-linecap="round" stroke-linejoin="round"/>
<path d="M1548.0,828.0 L1549.1,823.1 L1551.3,817.7 L1553.8,813.4 L1556.0,812.0 L1558.0,814.6 L1560.1,820.2 L1561.6,826.6 L1562.0,832.0 L1560.7,836.4 L1558.2,840.8 L1555.3,844.0 L1553.0,845.0 L1551.2,842.8 L1549.4,838.3 L1548.2,832.9Z" fill="#1e2231"/>
<path d="M1566.0,812.0 L1567.4,811.2 L1569.5,813.1 L1571.8,816.5 L1574.0,820.0 L1576.4,823.8 L1579.1,828.2 L1581.3,833.1 L1582.0,838.0 L1580.7,843.8 L1577.9,850.2 L1574.6,855.6 L1572.0,858.0 L1570.1,856.4 L1568.4,852.0 L1567.0,846.1 L1566.0,840.0 L1565.4,832.9 L1565.1,824.4 L1565.3,816.7Z" fill="#1e2231"/>
<path d="M1555.0,884.0 L1557.7,880.7 L1561.7,878.6 L1566.0,877.8 L1570.0,878.0 L1573.8,879.5 L1577.6,882.4 L1580.9,886.0 L1583.0,890.0 L1583.6,894.7 L1583.2,900.3 L1581.9,905.7 L1580.0,910.0 L1577.2,913.0 L1573.5,915.2 L1569.5,916.5 L1566.0,917.0 L1562.8,916.7 L1559.6,915.6 L1556.9,913.4 L1555.0,910.0 L1553.9,904.4 L1553.4,896.9 L1553.7,889.5Z" fill="#1e2231"/>
<path d="M1467.0,853.0 L1469.5,849.9 L1472.9,847.6 L1476.6,845.9 L1480.0,845.0 L1483.1,845.1 L1486.2,846.0 L1489.2,847.4 L1492.0,849.0 L1494.9,850.8 L1497.9,852.9 L1500.2,855.1 L1501.0,857.0 L1499.6,858.3 L1496.7,859.4 L1493.1,860.5 L1490.0,862.0 L1487.4,864.0 L1484.8,866.2 L1482.3,868.8 L1480.0,872.0 L1477.8,876.8 L1475.8,882.8 L1473.9,887.8 L1472.0,890.0 L1470.0,888.1 L1467.9,883.3 L1466.1,877.4 L1465.0,872.0 L1464.6,867.1 L1464.8,861.9 L1465.5,857.0Z" fill="#1e2231"/>
<path d="M1627.0,857.0 L1630.1,855.5 L1635.0,854.4 L1640.4,854.1 L1645.0,855.0 L1648.6,857.2 L1651.9,860.5 L1654.7,864.8 L1657.0,870.0 L1658.9,877.3 L1660.4,886.4 L1661.2,894.8 L1661.0,900.0 L1659.5,901.0 L1656.9,899.4 L1653.7,896.0 L1650.0,892.0 L1645.5,886.8 L1640.1,880.2 L1634.9,873.5 L1631.0,868.0 L1628.4,864.1 L1626.7,861.1 L1626.1,858.8Z" fill="#1e2231"/>
<path d="M1481.0,893.0 L1481.6,897.6 L1482.4,904.1 L1483.5,911.4 L1485.0,918.0 L1487.1,923.9 L1489.6,929.6 L1492.3,935.0 L1495.0,940.0 L1497.9,944.8 L1501.1,949.4 L1504.0,953.3 L1506.0,956.0" fill="none" stroke="#1e2231" stroke-width="3.5" stroke-linecap="round" stroke-linejoin="round"/>
<path d="M1516.0,927.0 L1518.2,928.4 L1521.5,930.5 L1524.8,932.6 L1527.0,934.0" fill="none" stroke="#4a5163" stroke-width="3" stroke-linecap="round" stroke-linejoin="round"/>
<path d="M1600.0,934.0 L1603.9,932.0 L1609.5,929.0 L1615.1,926.0 L1619.0,924.0" fill="none" stroke="#4a5163" stroke-width="3" stroke-linecap="round" stroke-linejoin="round"/>
<path d="M1567.0,915.0 L1567.3,922.1 L1567.8,932.2 L1568.1,943.7 L1568.0,955.0 L1567.3,966.2 L1566.2,978.1 L1565.0,989.7 L1564.0,1000.0 L1563.3,1009.3 L1562.8,1017.8 L1562.3,1025.0 L1562.0,1030.0" fill="none" stroke="#1e2231" stroke-width="3" stroke-linecap="round" stroke-linejoin="round"/>
<path d="M1548.0,1032.0 L1550.6,1029.2 L1555.0,1026.9 L1560.2,1025.3 L1565.0,1025.0 L1569.8,1026.3 L1574.9,1028.8 L1579.4,1032.0 L1582.0,1035.0 L1582.5,1038.1 L1581.4,1041.6 L1579.1,1044.7 L1576.0,1047.0 L1571.5,1048.4 L1565.6,1049.2 L1559.6,1049.2 L1555.0,1048.0 L1551.7,1045.0 L1549.1,1040.5 L1547.7,1035.8Z" fill="#1e2231"/>
<path d="M1585.0,970.0 L1589.4,967.5 L1595.8,963.8 L1603.0,959.8 L1610.0,956.0 L1617.2,952.4 L1625.1,948.6 L1632.1,945.3 L1637.0,943.0" fill="none" stroke="#4a5163" stroke-width="3" stroke-linecap="round" stroke-linejoin="round"/>
<path d="M1586.0,936.0 L1589.4,934.7 L1594.2,932.8 L1599.7,930.7 L1605.0,929.0 L1610.4,927.7 L1616.2,926.6 L1621.4,925.6 L1625.0,925.0" fill="none" stroke="#4a5163" stroke-width="2.5" stroke-linecap="round" stroke-linejoin="round"/>
<path d="M1515.0,1015.0 L1516.2,1017.7 L1518.0,1021.6 L1520.0,1025.9 L1522.0,1030.0 L1524.1,1034.1 L1526.4,1038.4 L1528.5,1042.3 L1530.0,1045.0" fill="none" stroke="#1e2231" stroke-width="3" stroke-linecap="round" stroke-linejoin="round"/>
<path d="M1610.0,1040.0 L1610.4,1041.6 L1611.0,1044.0 L1611.6,1046.4 L1612.0,1048.0" fill="none" stroke="#1e2231" stroke-width="3" stroke-linecap="round" stroke-linejoin="round"/>
<line x1="1553.6" y1="465" x2="1553.6" y2="1117" stroke="#0a0a0a" stroke-width="2.2"/>
<line x1="1329" y1="612" x2="1811" y2="612" stroke="#0a0a0a" stroke-width="2.2"/>
<rect x="1546" y="599" width="17" height="17" fill="#e2892a"/>
<rect x="1546" y="616" width="17" height="14" fill="#d95c26"/>
<rect x="1574" y="599" width="14" height="12" fill="#b95b38"/>
<rect x="1563" y="611" width="27" height="22" fill="#d3222a"/>
<rect x="1563" y="611" width="10" height="22" fill="#b83a2e"/>

</svg>
</body></html>
